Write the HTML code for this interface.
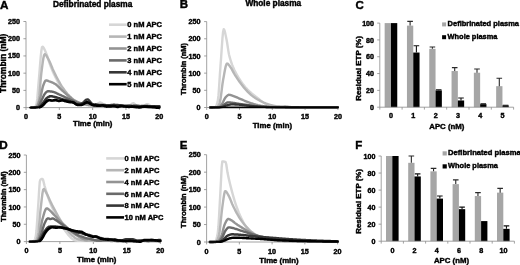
<!DOCTYPE html>
<html><head><meta charset="utf-8"><title>Figure</title>
<style>html,body{margin:0;padding:0;background:#fff;overflow:hidden}svg{display:block;filter:blur(0.35px)}text{font-family:"Liberation Sans",sans-serif;font-weight:bold;stroke:#000;stroke-width:0.42px}</style>
</head><body>
<svg width="520" height="265" viewBox="0 0 520 265" font-family="Liberation Sans, sans-serif" font-weight="bold" fill="#000">
<rect width="520" height="265" fill="#fff"/>
<g stroke="#8a8a8a" stroke-width="0.8" fill="none">
<path d="M26.00,21.50 V107.60 H159.30"/>
<path d="M23.40,107.60 H26.00"/>
<path d="M23.40,90.38 H26.00"/>
<path d="M23.40,73.16 H26.00"/>
<path d="M23.40,55.94 H26.00"/>
<path d="M23.40,38.72 H26.00"/>
<path d="M23.40,21.50 H26.00"/>
<path d="M26.00,107.60 V110.00"/>
<path d="M59.33,107.60 V110.00"/>
<path d="M92.65,107.60 V110.00"/>
<path d="M125.98,107.60 V110.00"/>
<path d="M159.30,107.60 V110.00"/>
</g>
<text x="20.00" y="110.15" font-size="7.2" text-anchor="end" >0</text>
<text x="20.00" y="92.93" font-size="7.2" text-anchor="end" >50</text>
<text x="20.00" y="75.71" font-size="7.2" text-anchor="end" >100</text>
<text x="20.00" y="58.49" font-size="7.2" text-anchor="end" >150</text>
<text x="20.00" y="41.27" font-size="7.2" text-anchor="end" >200</text>
<text x="20.00" y="24.05" font-size="7.2" text-anchor="end" >250</text>
<text x="26.00" y="118.50" font-size="7.2" text-anchor="middle" >0</text>
<text x="59.33" y="118.50" font-size="7.2" text-anchor="middle" >5</text>
<text x="92.65" y="118.50" font-size="7.2" text-anchor="middle" >10</text>
<text x="125.98" y="118.50" font-size="7.2" text-anchor="middle" >15</text>
<text x="159.30" y="118.50" font-size="7.2" text-anchor="middle" >20</text>
<g fill="none" stroke-linejoin="round" stroke-linecap="round">
<path d="M31.33,107.60 L32.00,107.59 L32.66,107.55 L33.33,107.48 L34.00,107.38 L34.66,107.26 L35.33,106.69 L36.00,105.37 L36.66,103.47 L37.33,98.40 L38.00,89.95 L38.66,81.77 L39.33,74.14 L40.00,65.69 L40.66,57.59 L41.33,51.02 L42.00,47.18 L42.66,46.73 L43.33,47.35 L44.00,48.44 L44.66,49.82 L45.33,51.35 L45.99,52.84 L46.66,54.45 L47.33,56.36 L47.99,58.45 L48.66,60.59 L49.33,62.67 L49.99,64.55 L50.66,66.28 L51.33,67.96 L51.99,69.59 L52.66,71.18 L53.33,72.70 L53.99,74.17 L54.66,75.57 L55.33,76.93 L55.99,78.26 L56.66,79.57 L57.33,80.85 L57.99,82.09 L58.66,83.30 L59.32,84.46 L59.99,85.59 L60.66,86.66 L61.32,87.69 L61.99,88.66 L62.66,89.59 L63.32,90.49 L63.99,91.36 L64.66,92.21 L65.32,93.02 L65.99,93.80 L66.66,94.56 L67.32,95.28 L67.99,95.97 L68.66,96.64 L69.32,97.27 L69.99,97.88 L70.66,98.47 L71.32,99.05 L71.99,99.60 L72.66,100.11 L73.32,100.59 L73.99,101.02 L74.65,101.40 L75.32,101.75 L75.99,102.07 L76.65,102.38 L77.32,102.67 L77.99,102.94 L78.65,103.19 L79.32,103.42 L79.99,103.64 L80.65,103.84 L81.32,104.04 L81.99,104.21 L82.65,104.36 L83.32,104.50 L83.99,104.62 L84.65,104.71 L85.32,104.83 L85.98,104.92 L86.65,105.01 L87.32,105.10 L87.98,105.18 L88.65,105.23 L89.32,105.23 L89.98,105.21 L90.65,105.20 L91.32,105.17 L91.98,105.15 L92.65,105.14 L93.32,105.12 L93.98,105.08 L94.65,105.00 L95.32,104.85 L95.98,104.65 L96.65,104.37 L97.32,103.97 L97.98,103.49 L98.65,103.03 L99.31,102.72 L99.98,102.48 L100.65,102.53 L101.31,102.84 L101.98,103.29 L102.65,103.78 L103.31,104.25 L103.98,104.66 L104.65,104.93 L105.31,105.11 L105.98,105.22 L106.65,105.28 L107.31,105.34 L107.98,105.39 L108.65,105.44 L109.31,105.48 L109.98,105.53 L110.65,105.56 L111.31,105.57 L111.98,105.58 L112.64,105.58 L113.31,105.59 L113.98,105.60 L114.64,105.71 L115.31,105.81 L115.98,105.92 L116.64,106.03 L117.31,106.13 L117.98,106.18 L118.64,106.18 L119.31,106.17 L119.98,106.16 L120.64,106.15 L121.31,106.15 L121.98,106.21 L122.64,106.27 L123.31,106.33 L123.98,106.39 L124.64,106.45 L125.31,106.47 L125.98,106.45 L126.64,106.41 L127.31,106.36 L127.97,106.27 L128.64,106.11 L129.31,105.84 L129.97,105.43 L130.64,104.90 L131.31,104.30 L131.97,103.71 L132.64,103.33 L133.31,103.25 L133.97,103.47 L134.64,103.95 L135.31,104.58 L135.97,105.23 L136.64,105.73 L137.31,106.10 L137.97,106.34 L138.64,106.47 L139.31,106.54 L139.97,106.58 L140.64,106.60 L141.30,106.60 L141.97,106.55 L142.64,106.45 L143.30,106.25 L143.97,105.93 L144.64,105.50 L145.30,105.00 L145.97,104.53 L146.64,104.19 L147.30,104.06 L147.97,104.20 L148.64,104.57 L149.30,105.07 L149.97,105.59 L150.64,106.05 L151.30,106.37 L151.97,106.57 L152.63,106.68 L153.30,106.73 L153.97,106.75 L154.63,106.79 L155.30,106.87 L155.97,106.95 L156.63,107.02 L157.30,107.10 L157.97,107.18 L158.63,107.20 L159.30,107.22" stroke="#d6d6d6" stroke-width="2.4"/>
<path d="M31.33,107.60 L32.00,107.59 L32.66,107.55 L33.33,107.48 L34.00,107.38 L34.66,107.25 L35.33,107.10 L36.00,106.91 L36.66,106.30 L37.33,104.98 L38.00,103.07 L38.66,100.71 L39.33,95.91 L40.00,88.14 L40.66,79.77 L41.33,73.16 L42.00,68.03 L42.66,62.93 L43.33,58.51 L44.00,55.40 L44.66,54.22 L45.33,54.47 L45.99,55.14 L46.66,56.12 L47.33,57.29 L47.99,58.53 L48.66,59.73 L49.33,60.98 L49.99,62.42 L50.66,63.99 L51.33,65.63 L51.99,67.28 L52.66,68.89 L53.33,70.40 L53.99,71.84 L54.66,73.24 L55.33,74.60 L55.99,75.92 L56.66,77.20 L57.33,78.48 L57.99,79.74 L58.66,80.98 L59.32,82.19 L59.99,83.36 L60.66,84.49 L61.32,85.57 L61.99,86.59 L62.66,87.57 L63.32,88.53 L63.99,89.47 L64.66,90.38 L65.32,91.26 L65.99,92.11 L66.66,92.94 L67.32,93.73 L67.99,94.48 L68.66,95.21 L69.32,95.89 L69.99,96.55 L70.66,97.19 L71.32,97.81 L71.99,98.40 L72.66,98.95 L73.32,99.47 L73.99,99.94 L74.65,100.37 L75.32,100.75 L75.99,101.12 L76.65,101.47 L77.32,101.79 L77.99,102.10 L78.65,102.38 L79.32,102.65 L79.99,102.90 L80.65,103.14 L81.32,103.37 L81.99,103.58 L82.65,103.78 L83.32,103.96 L83.99,104.12 L84.65,104.26 L85.32,104.36 L85.98,104.42 L86.65,104.47 L87.32,104.50 L87.98,104.52 L88.65,104.60 L89.32,104.75 L89.98,104.92 L90.65,105.07 L91.32,105.22 L91.98,105.36 L92.65,105.36 L93.32,105.35 L93.98,105.34 L94.65,105.32 L95.32,105.30 L95.98,105.33 L96.65,105.39 L97.32,105.45 L97.98,105.51 L98.65,105.57 L99.31,105.63 L99.98,105.60 L100.65,105.58 L101.31,105.56 L101.98,105.53 L102.65,105.51 L103.31,105.50 L103.98,105.49 L104.65,105.49 L105.31,105.48 L105.98,105.48 L106.65,105.48 L107.31,105.57 L107.98,105.66 L108.65,105.74 L109.31,105.83 L109.98,105.92 L110.65,105.96 L111.31,105.96 L111.98,105.95 L112.64,105.95 L113.31,105.95 L113.98,105.94 L114.64,105.96 L115.31,105.99 L115.98,106.01 L116.64,106.03 L117.31,106.05 L117.98,106.08 L118.64,106.12 L119.31,106.17 L119.98,106.21 L120.64,106.25 L121.31,106.29 L121.98,106.33 L122.64,106.38 L123.31,106.43 L123.98,106.48 L124.64,106.52 L125.31,106.56 L125.98,106.59 L126.64,106.62 L127.31,106.65 L127.97,106.68 L128.64,106.70 L129.31,106.66 L129.97,106.61 L130.64,106.56 L131.31,106.51 L131.97,106.46 L132.64,106.44 L133.31,106.46 L133.97,106.47 L134.64,106.49 L135.31,106.50 L135.97,106.52 L136.64,106.40 L137.31,106.28 L137.97,106.16 L138.64,106.05 L139.31,105.93 L139.97,105.99 L140.64,106.23 L141.30,106.47 L141.97,106.71 L142.64,106.96 L143.30,107.20 L143.97,107.08 L144.64,106.96 L145.30,106.84 L145.97,106.73 L146.64,106.61 L147.30,106.55 L147.97,106.55 L148.64,106.55 L149.30,106.56 L149.97,106.56 L150.64,106.56 L151.30,106.53 L151.97,106.50 L152.63,106.46 L153.30,106.43 L153.97,106.40 L154.63,106.42 L155.30,106.48 L155.97,106.54 L156.63,106.60 L157.30,106.67 L157.97,106.73 L158.63,106.75 L159.30,106.77" stroke="#b6b6b6" stroke-width="2.4"/>
<path d="M31.33,107.60 L32.00,107.59 L32.66,107.56 L33.33,107.51 L34.00,107.43 L34.66,107.33 L35.33,107.22 L36.00,107.08 L36.66,106.91 L37.33,106.30 L38.00,104.96 L38.66,103.14 L39.33,101.07 L40.00,98.99 L40.66,96.53 L41.33,93.49 L42.00,90.29 L42.66,87.38 L43.33,85.21 L44.00,83.53 L44.66,81.98 L45.33,80.84 L45.99,80.39 L46.66,80.46 L47.33,80.64 L47.99,80.89 L48.66,81.17 L49.33,81.43 L49.99,81.66 L50.66,81.91 L51.33,82.16 L51.99,82.42 L52.66,82.70 L53.33,83.00 L53.99,83.33 L54.66,83.69 L55.33,84.08 L55.99,84.55 L56.66,85.09 L57.33,85.68 L57.99,86.31 L58.66,86.96 L59.32,87.64 L59.99,88.32 L60.66,88.99 L61.32,89.64 L61.99,90.26 L62.66,90.85 L63.32,91.44 L63.99,92.03 L64.66,92.61 L65.32,93.20 L65.99,93.77 L66.66,94.35 L67.32,94.92 L67.99,95.48 L68.66,96.03 L69.32,96.58 L69.99,97.13 L70.66,97.70 L71.32,98.27 L71.99,98.83 L72.66,99.37 L73.32,99.84 L73.99,100.26 L74.65,100.64 L75.32,100.99 L75.99,101.33 L76.65,101.66 L77.32,101.98 L77.99,102.26 L78.65,102.52 L79.32,102.77 L79.99,103.00 L80.65,103.20 L81.32,103.39 L81.99,103.55 L82.65,103.70 L83.32,103.83 L83.99,103.96 L84.65,104.08 L85.32,104.24 L85.98,104.41 L86.65,104.58 L87.32,104.75 L87.98,104.93 L88.65,105.02 L89.32,105.01 L89.98,105.00 L90.65,104.97 L91.32,104.93 L91.98,104.87 L92.65,105.02 L93.32,105.16 L93.98,105.29 L94.65,105.42 L95.32,105.55 L95.98,105.62 L96.65,105.64 L97.32,105.66 L97.98,105.68 L98.65,105.70 L99.31,105.72 L99.98,105.68 L100.65,105.64 L101.31,105.61 L101.98,105.57 L102.65,105.53 L103.31,105.48 L103.98,105.41 L104.65,105.34 L105.31,105.27 L105.98,105.21 L106.65,105.15 L107.31,105.23 L107.98,105.32 L108.65,105.41 L109.31,105.49 L109.98,105.58 L110.65,105.67 L111.31,105.76 L111.98,105.86 L112.64,105.95 L113.31,106.04 L113.98,106.13 L114.64,106.14 L115.31,106.15 L115.98,106.17 L116.64,106.18 L117.31,106.19 L117.98,106.17 L118.64,106.12 L119.31,106.08 L119.98,106.03 L120.64,105.99 L121.31,105.94 L121.98,106.00 L122.64,106.06 L123.31,106.12 L123.98,106.18 L124.64,106.23 L125.31,106.29 L125.98,106.34 L126.64,106.38 L127.31,106.43 L127.97,106.48 L128.64,106.52 L129.31,106.51 L129.97,106.50 L130.64,106.49 L131.31,106.47 L131.97,106.46 L132.64,106.43 L133.31,106.40 L133.97,106.36 L134.64,106.32 L135.31,106.28 L135.97,106.24 L136.64,106.18 L137.31,106.13 L137.97,106.08 L138.64,106.02 L139.31,105.97 L139.97,106.02 L140.64,106.19 L141.30,106.36 L141.97,106.53 L142.64,106.70 L143.30,106.87 L143.97,106.85 L144.64,106.83 L145.30,106.81 L145.97,106.79 L146.64,106.77 L147.30,106.77 L147.97,106.79 L148.64,106.81 L149.30,106.84 L149.97,106.86 L150.64,106.88 L151.30,106.98 L151.97,107.08 L152.63,107.18 L153.30,107.28 L153.97,107.38 L154.63,107.40 L155.30,107.34 L155.97,107.29 L156.63,107.23 L157.30,107.18 L157.97,107.12 L158.63,107.14 L159.30,107.17" stroke="#939393" stroke-width="2.4"/>
<path d="M31.33,107.60 L32.00,107.59 L32.66,107.57 L33.33,107.54 L34.00,107.50 L34.66,107.44 L35.33,107.36 L36.00,107.27 L36.66,107.17 L37.33,107.05 L38.00,106.91 L38.66,106.37 L39.33,105.23 L40.00,103.73 L40.66,102.13 L41.33,100.71 L42.00,99.37 L42.66,97.93 L43.33,96.49 L44.00,95.14 L44.66,93.99 L45.33,93.14 L45.99,92.46 L46.66,91.85 L47.33,91.41 L47.99,91.24 L48.66,91.26 L49.33,91.30 L49.99,91.36 L50.66,91.44 L51.33,91.54 L51.99,91.65 L52.66,91.76 L53.33,91.90 L53.99,92.09 L54.66,92.33 L55.33,92.61 L55.99,92.91 L56.66,93.23 L57.33,93.56 L57.99,93.89 L58.66,94.21 L59.32,94.51 L59.99,94.81 L60.66,95.11 L61.32,95.42 L61.99,95.73 L62.66,96.04 L63.32,96.36 L63.99,96.67 L64.66,96.99 L65.32,97.30 L65.99,97.61 L66.66,97.93 L67.32,98.24 L67.99,98.56 L68.66,98.87 L69.32,99.18 L69.99,99.48 L70.66,99.79 L71.32,100.08 L71.99,100.37 L72.66,100.65 L73.32,100.91 L73.99,101.21 L74.65,101.54 L75.32,101.87 L75.99,102.20 L76.65,102.52 L77.32,102.82 L77.99,102.95 L78.65,103.05 L79.32,103.12 L79.99,103.17 L80.65,103.18 L81.32,103.22 L81.99,103.28 L82.65,103.31 L83.32,103.30 L83.99,103.26 L84.65,103.22 L85.32,103.03 L85.98,102.86 L86.65,102.75 L87.32,102.69 L87.98,102.71 L88.65,102.85 L89.32,103.13 L89.98,103.43 L90.65,103.74 L91.32,104.04 L91.98,104.32 L92.65,104.56 L93.32,104.76 L93.98,104.92 L94.65,105.06 L95.32,105.17 L95.98,105.27 L96.65,105.36 L97.32,105.44 L97.98,105.51 L98.65,105.58 L99.31,105.65 L99.98,105.61 L100.65,105.58 L101.31,105.54 L101.98,105.50 L102.65,105.46 L103.31,105.45 L103.98,105.46 L104.65,105.47 L105.31,105.48 L105.98,105.49 L106.65,105.51 L107.31,105.60 L107.98,105.69 L108.65,105.79 L109.31,105.88 L109.98,105.98 L110.65,105.95 L111.31,105.81 L111.98,105.67 L112.64,105.52 L113.31,105.38 L113.98,105.24 L114.64,105.36 L115.31,105.47 L115.98,105.59 L116.64,105.71 L117.31,105.83 L117.98,105.86 L118.64,105.82 L119.31,105.78 L119.98,105.73 L120.64,105.69 L121.31,105.65 L121.98,105.81 L122.64,105.97 L123.31,106.13 L123.98,106.29 L124.64,106.45 L125.31,106.47 L125.98,106.35 L126.64,106.23 L127.31,106.10 L127.97,105.98 L128.64,105.86 L129.31,106.03 L129.97,106.19 L130.64,106.36 L131.31,106.52 L131.97,106.68 L132.64,106.75 L133.31,106.73 L133.97,106.70 L134.64,106.68 L135.31,106.65 L135.97,106.62 L136.64,106.57 L137.31,106.52 L137.97,106.47 L138.64,106.41 L139.31,106.36 L139.97,106.35 L140.64,106.38 L141.30,106.42 L141.97,106.45 L142.64,106.48 L143.30,106.51 L143.97,106.64 L144.64,106.77 L145.30,106.90 L145.97,107.04 L146.64,107.17 L147.30,107.21 L147.97,107.16 L148.64,107.11 L149.30,107.06 L149.97,107.02 L150.64,106.97 L151.30,106.89 L151.97,106.81 L152.63,106.73 L153.30,106.65 L153.97,106.57 L154.63,106.51 L155.30,106.46 L155.97,106.42 L156.63,106.38 L157.30,106.34 L157.97,106.29 L158.63,106.31 L159.30,106.34" stroke="#6a6a6a" stroke-width="2.4"/>
<path d="M31.33,107.60 L32.00,107.60 L32.66,107.58 L33.33,107.56 L34.00,107.53 L34.66,107.48 L35.33,107.43 L36.00,107.37 L36.66,107.30 L37.33,107.22 L38.00,107.13 L38.66,107.02 L39.33,106.91 L40.00,106.61 L40.66,105.99 L41.33,105.16 L42.00,104.23 L42.66,103.29 L43.33,102.43 L44.00,101.60 L44.66,100.68 L45.33,99.75 L45.99,98.88 L46.66,98.14 L47.33,97.61 L47.99,97.21 L48.66,96.84 L49.33,96.53 L49.99,96.31 L50.66,96.23 L51.33,96.27 L51.99,96.35 L52.66,96.47 L53.33,96.62 L53.99,96.77 L54.66,96.92 L55.33,97.08 L55.99,97.27 L56.66,97.47 L57.33,97.68 L57.99,97.90 L58.66,98.11 L59.32,98.30 L59.99,98.49 L60.66,98.69 L61.32,98.89 L61.99,99.09 L62.66,99.29 L63.32,99.46 L63.99,99.63 L64.66,99.78 L65.32,99.94 L65.99,100.09 L66.66,100.27 L67.32,100.47 L67.99,100.67 L68.66,100.88 L69.32,101.10 L69.99,101.31 L70.66,101.46 L71.32,101.62 L71.99,101.79 L72.66,101.97 L73.32,102.21 L73.99,102.61 L74.65,103.15 L75.32,103.67 L75.99,104.13 L76.65,104.50 L77.32,104.72 L77.99,104.65 L78.65,104.57 L79.32,104.47 L79.99,104.34 L80.65,104.17 L81.32,103.90 L81.99,103.52 L82.65,103.05 L83.32,102.47 L83.99,101.81 L84.65,101.11 L85.32,100.50 L85.98,99.97 L86.65,99.61 L87.32,99.48 L87.98,99.58 L88.65,100.02 L89.32,100.76 L89.98,101.58 L90.65,102.43 L91.32,103.22 L91.98,103.93 L92.65,104.19 L93.32,104.34 L93.98,104.40 L94.65,104.40 L95.32,104.35 L95.98,104.39 L96.65,104.53 L97.32,104.66 L97.98,104.78 L98.65,104.90 L99.31,105.02 L99.98,105.02 L100.65,105.03 L101.31,105.04 L101.98,105.05 L102.65,105.05 L103.31,105.07 L103.98,105.08 L104.65,105.10 L105.31,105.12 L105.98,105.14 L106.65,105.17 L107.31,105.16 L107.98,105.16 L108.65,105.15 L109.31,105.15 L109.98,105.14 L110.65,105.11 L111.31,105.05 L111.98,104.99 L112.64,104.92 L113.31,104.86 L113.98,104.80 L114.64,104.85 L115.31,104.89 L115.98,104.94 L116.64,104.98 L117.31,105.03 L117.98,105.08 L118.64,105.15 L119.31,105.22 L119.98,105.29 L120.64,105.35 L121.31,105.42 L121.98,105.48 L122.64,105.54 L123.31,105.59 L123.98,105.65 L124.64,105.70 L125.31,105.74 L125.98,105.74 L126.64,105.75 L127.31,105.75 L127.97,105.76 L128.64,105.76 L129.31,105.79 L129.97,105.82 L130.64,105.85 L131.31,105.87 L131.97,105.90 L132.64,105.89 L133.31,105.84 L133.97,105.80 L134.64,105.75 L135.31,105.70 L135.97,105.66 L136.64,105.75 L137.31,105.85 L137.97,105.95 L138.64,106.04 L139.31,106.14 L139.97,106.17 L140.64,106.14 L141.30,106.11 L141.97,106.08 L142.64,106.04 L143.30,106.01 L143.97,106.03 L144.64,106.04 L145.30,106.06 L145.97,106.08 L146.64,106.09 L147.30,106.11 L147.97,106.12 L148.64,106.13 L149.30,106.14 L149.97,106.15 L150.64,106.16 L151.30,106.16 L151.97,106.16 L152.63,106.16 L153.30,106.16 L153.97,106.16 L154.63,106.17 L155.30,106.19 L155.97,106.21 L156.63,106.24 L157.30,106.26 L157.97,106.28 L158.63,106.31 L159.30,106.33" stroke="#363636" stroke-width="2.5"/>
<path d="M30.00,107.60 L30.67,107.60 L31.33,107.59 L32.00,107.59 L32.66,107.57 L33.33,107.56 L34.00,107.54 L34.66,107.52 L35.33,107.49 L36.00,107.46 L36.66,107.43 L37.33,107.39 L38.00,107.35 L38.66,107.31 L39.33,107.26 L40.00,107.11 L40.66,106.81 L41.33,106.39 L42.00,105.90" stroke="#000000" stroke-width="1.84"/>
<path d="M40.00,107.11 L40.66,106.81 L41.33,106.39 L42.00,105.90 L42.66,105.37 L43.33,104.84 L44.00,104.23 L44.66,103.46 L45.33,102.67 L46.00,101.94 L46.66,101.38 L47.33,100.93 L47.99,100.51 L48.66,100.25 L49.33,100.18 L49.99,100.25 L50.66,100.36 L51.33,100.51 L51.99,100.58 L52.66,100.52 L53.33,100.43 L53.99,100.32 L54.66,100.18 L55.33,100.02 L55.99,100.17 L56.66,100.35 L57.33,100.54 L57.99,100.72 L58.66,100.91 L59.32,100.94 L59.99,100.80 L60.66,100.67 L61.32,100.54 L61.99,100.42 L62.66,100.29 L63.32,100.49 L63.99,100.69 L64.66,100.89 L65.32,101.09 L65.99,101.30 L66.66,101.48 L67.32,101.62 L67.99,101.76 L68.66,101.90 L69.32,102.05 L69.99,102.21 L70.66,102.22 L71.32,102.24 L71.99,102.27 L72.66,102.33 L73.32,102.46 L73.99,102.78 L74.65,103.24 L75.32,103.72 L75.99,104.17 L76.65,104.55 L77.32,104.80 L77.99,104.89 L78.65,104.96 L79.32,105.00 L79.99,105.00 L80.65,104.95 L81.32,104.85 L81.99,104.68 L82.65,104.43 L83.32,104.11 L83.99,103.72 L84.65,103.30 L85.32,102.91 L85.98,102.59 L86.65,102.39 L87.32,102.36 L87.98,102.49 L88.65,102.75 L89.32,103.10 L89.98,103.52 L90.65,103.95 L91.32,104.34 L91.98,104.67 L92.65,104.95 L93.32,105.16 L93.98,105.31 L94.65,105.40 L95.32,105.46 L95.98,105.51 L96.65,105.57 L97.32,105.63 L97.98,105.67 L98.65,105.72 L99.31,105.76 L99.98,105.69 L100.65,105.61 L101.31,105.53 L101.98,105.46 L102.65,105.38 L103.31,105.45 L103.98,105.67 L104.65,105.88 L105.31,106.10 L105.98,106.32 L106.65,106.54 L107.31,106.51 L107.98,106.47 L108.65,106.44 L109.31,106.42 L109.98,106.39 L110.65,106.35 L111.31,106.30 L111.98,106.24 L112.64,106.19 L113.31,106.14 L113.98,106.09 L114.64,106.24 L115.31,106.40 L115.98,106.55 L116.64,106.70 L117.31,106.85 L117.98,106.85 L118.64,106.70 L119.31,106.54 L119.98,106.39 L120.64,106.23 L121.31,106.08 L121.98,106.15 L122.64,106.22 L123.31,106.29 L123.98,106.36 L124.64,106.43 L125.31,106.49 L125.97,106.57 L126.64,106.63 L127.31,106.70 L127.97,106.77 L128.64,106.84 L129.31,106.81 L129.97,106.77 L130.64,106.74 L131.31,106.71 L131.97,106.67 L132.64,106.69 L133.31,106.77 L133.97,106.85 L134.64,106.93 L135.31,107.01 L135.97,107.08 L136.64,107.15 L137.31,107.21 L137.97,107.27 L138.64,107.33 L139.31,107.40 L139.97,107.36 L140.64,107.22 L141.30,107.08 L141.97,106.94 L142.64,106.80 L143.30,106.66 L143.97,106.66 L144.64,106.66 L145.30,106.66 L145.97,106.66 L146.64,106.67 L147.30,106.70 L147.97,106.76 L148.64,106.82 L149.30,106.88 L149.97,106.94 L150.64,107.00 L151.30,107.02 L151.97,107.04 L152.63,107.06 L153.30,107.08 L153.97,107.10 L154.63,107.18 L155.30,107.32 L155.97,107.47 L156.63,107.60 L157.30,107.60 L157.97,107.60 L158.63,107.60 L159.30,107.60" stroke="#000000" stroke-width="2.7"/>
</g>
<text x="0.10" y="9.00" font-size="11.7" text-anchor="start" >A</text>
<text x="92.60" y="7.00" font-size="8.3" text-anchor="middle" >Defibrinated plasma</text>
<text transform="translate(6.10,63.30) rotate(-90)" font-size="8.5" text-anchor="middle">Thrombin (nM)</text>
<text x="92.70" y="126.10" font-size="7.8" text-anchor="middle" >Time (min)</text>
<path d="M109,24.70 H126.7" stroke="#d6d6d6" stroke-width="2.6" fill="none"/>
<text x="127.30" y="27.40" font-size="7.5" text-anchor="start" >0 nM APC</text>
<path d="M109,36.60 H126.7" stroke="#b6b6b6" stroke-width="2.6" fill="none"/>
<text x="127.30" y="39.30" font-size="7.5" text-anchor="start" >1 nM APC</text>
<path d="M109,48.50 H126.7" stroke="#939393" stroke-width="2.6" fill="none"/>
<text x="127.30" y="51.20" font-size="7.5" text-anchor="start" >2 nM APC</text>
<path d="M109,60.40 H126.7" stroke="#6a6a6a" stroke-width="2.6" fill="none"/>
<text x="127.30" y="63.10" font-size="7.5" text-anchor="start" >3 nM APC</text>
<path d="M109,72.30 H126.7" stroke="#363636" stroke-width="2.6" fill="none"/>
<text x="127.30" y="75.00" font-size="7.5" text-anchor="start" >4 nM APC</text>
<path d="M109,84.20 H126.7" stroke="#000000" stroke-width="2.6" fill="none"/>
<text x="127.30" y="86.90" font-size="7.5" text-anchor="start" >5 nM APC</text>
<g stroke="#8a8a8a" stroke-width="0.8" fill="none">
<path d="M206.70,21.60 V107.50 H337.90"/>
<path d="M204.10,107.50 H206.70"/>
<path d="M204.10,90.32 H206.70"/>
<path d="M204.10,73.14 H206.70"/>
<path d="M204.10,55.96 H206.70"/>
<path d="M204.10,38.78 H206.70"/>
<path d="M204.10,21.60 H206.70"/>
<path d="M206.70,107.50 V109.90"/>
<path d="M239.50,107.50 V109.90"/>
<path d="M272.30,107.50 V109.90"/>
<path d="M305.10,107.50 V109.90"/>
<path d="M337.90,107.50 V109.90"/>
</g>
<text x="200.50" y="110.05" font-size="7.2" text-anchor="end" >0</text>
<text x="200.50" y="92.87" font-size="7.2" text-anchor="end" >50</text>
<text x="200.50" y="75.69" font-size="7.2" text-anchor="end" >100</text>
<text x="200.50" y="58.51" font-size="7.2" text-anchor="end" >150</text>
<text x="200.50" y="41.33" font-size="7.2" text-anchor="end" >200</text>
<text x="200.50" y="24.15" font-size="7.2" text-anchor="end" >250</text>
<text x="206.70" y="118.90" font-size="7.2" text-anchor="middle" >0</text>
<text x="239.50" y="118.90" font-size="7.2" text-anchor="middle" >5</text>
<text x="272.30" y="118.90" font-size="7.2" text-anchor="middle" >10</text>
<text x="305.10" y="118.90" font-size="7.2" text-anchor="middle" >15</text>
<text x="337.90" y="118.90" font-size="7.2" text-anchor="middle" >20</text>
<g fill="none" stroke-linejoin="round" stroke-linecap="round">
<path d="M209.98,107.50 L210.64,107.50 L211.29,107.48 L211.95,107.46 L212.60,107.42 L213.26,107.37 L213.92,107.32 L214.57,107.24 L215.23,107.16 L215.88,106.60 L216.54,105.22 L217.20,103.17 L217.85,100.63 L218.51,95.21 L219.16,86.07 L219.82,75.61 L220.48,66.27 L221.13,57.30 L221.79,47.46 L222.44,38.39 L223.10,31.74 L223.76,29.16 L224.41,30.11 L225.07,32.50 L225.72,35.62 L226.38,38.78 L227.04,42.30 L227.69,46.54 L228.35,50.84 L229.00,54.54 L229.66,57.17 L230.32,59.43 L230.97,61.50 L231.63,63.40 L232.28,65.15 L232.94,66.76 L233.60,68.27 L234.25,69.68 L234.91,71.01 L235.56,72.29 L236.22,73.54 L236.88,74.74 L237.53,75.91 L238.19,77.04 L238.84,78.12 L239.50,79.18 L240.16,80.19 L240.81,81.17 L241.47,82.12 L242.12,83.04 L242.78,83.93 L243.44,84.78 L244.09,85.61 L244.75,86.41 L245.40,87.19 L246.06,87.94 L246.72,88.66 L247.37,89.36 L248.03,90.04 L248.68,90.69 L249.34,91.31 L250.00,91.92 L250.65,92.50 L251.31,93.07 L251.96,93.62 L252.62,94.16 L253.28,94.69 L253.93,95.21 L254.59,95.72 L255.24,96.23 L255.90,96.74 L256.56,97.24 L257.21,97.75 L257.87,98.26 L258.52,98.77 L259.18,99.30 L259.84,99.83 L260.49,100.36 L261.15,100.88 L261.80,101.40 L262.46,101.90 L263.12,102.39 L263.77,102.85 L264.43,103.29 L265.08,103.70 L265.74,104.06 L266.40,104.42 L267.05,104.77 L267.71,105.11 L268.36,105.43 L269.02,105.72 L269.68,105.97 L270.33,106.16 L270.99,106.30 L271.64,106.39 L272.30,106.48 L272.96,106.56 L273.61,106.63 L274.27,106.69 L274.92,106.75 L275.58,106.80 L276.24,106.85 L276.89,106.89 L277.55,106.93 L278.20,106.96 L278.86,106.98 L279.52,107.01 L280.17,107.03 L280.83,107.06 L281.48,107.08 L282.14,107.10 L282.80,107.11 L283.45,107.13 L284.11,107.14 L284.76,107.15 L285.42,107.16 L286.08,107.16 L286.73,107.17 L287.39,107.17 L288.04,107.17 L288.70,107.18 L289.36,107.18 L290.01,107.19 L290.67,107.19 L291.32,107.20 L291.98,107.20 L292.64,107.20 L293.29,107.21 L293.95,107.21 L294.60,107.22 L295.26,107.22 L295.92,107.22 L296.57,107.23 L297.23,107.23 L297.88,107.23 L298.54,107.24 L299.20,107.24 L299.85,107.24 L300.51,107.25 L301.16,107.25 L301.82,107.25 L302.48,107.26 L303.13,107.26 L303.79,107.26 L304.44,107.26 L305.10,107.27 L305.76,107.27 L306.41,107.27 L307.07,107.27 L307.72,107.28 L308.38,107.28 L309.04,107.28 L309.69,107.28 L310.35,107.29 L311.00,107.29 L311.66,107.29 L312.32,107.29 L312.97,107.29 L313.63,107.30 L314.28,107.30 L314.94,107.30 L315.60,107.30 L316.25,107.30 L316.91,107.30 L317.56,107.31 L318.22,107.31 L318.88,107.31 L319.53,107.31 L320.19,107.31 L320.84,107.31 L321.50,107.31 L322.16,107.32 L322.81,107.32 L323.47,107.32 L324.12,107.32 L324.78,107.32 L325.44,107.32 L326.09,107.32 L326.75,107.32 L327.40,107.32 L328.06,107.32 L328.72,107.32 L329.37,107.32 L330.03,107.33 L330.68,107.33 L331.34,107.33 L332.00,107.33 L332.65,107.33 L333.31,107.33 L333.96,107.33 L334.62,107.33 L335.28,107.33 L335.93,107.33 L336.59,107.33 L337.24,107.33 L337.90,107.33" stroke="#d6d6d6" stroke-width="2.4"/>
<path d="M209.98,107.50 L210.64,107.50 L211.29,107.49 L211.95,107.48 L212.60,107.46 L213.26,107.44 L213.92,107.41 L214.57,107.38 L215.23,107.33 L215.88,107.28 L216.54,107.22 L217.20,107.16 L217.85,106.71 L218.51,105.64 L219.16,104.13 L219.82,102.35 L220.48,99.38 L221.13,94.79 L221.79,89.45 L222.44,84.23 L223.10,80.01 L223.76,76.41 L224.41,72.69 L225.07,69.19 L225.72,66.27 L226.38,64.26 L227.04,63.52 L227.69,63.74 L228.35,64.32 L229.00,65.14 L229.66,66.06 L230.32,66.96 L230.97,67.88 L231.63,68.95 L232.28,70.12 L232.94,71.34 L233.60,72.56 L234.25,73.75 L234.91,74.86 L235.56,75.90 L236.22,76.92 L236.88,77.93 L237.53,78.91 L238.19,79.88 L238.84,80.82 L239.50,81.73 L240.16,82.63 L240.81,83.51 L241.47,84.39 L242.12,85.25 L242.78,86.10 L243.44,86.92 L244.09,87.72 L244.75,88.50 L245.40,89.25 L246.06,89.98 L246.72,90.68 L247.37,91.37 L248.03,92.04 L248.68,92.70 L249.34,93.33 L250.00,93.95 L250.65,94.54 L251.31,95.11 L251.96,95.65 L252.62,96.16 L253.28,96.65 L253.93,97.11 L254.59,97.56 L255.24,97.99 L255.90,98.40 L256.56,98.80 L257.21,99.19 L257.87,99.56 L258.52,99.93 L259.18,100.28 L259.84,100.63 L260.49,100.98 L261.15,101.32 L261.80,101.64 L262.46,101.96 L263.12,102.27 L263.77,102.57 L264.43,102.85 L265.08,103.12 L265.74,103.38 L266.40,103.62 L267.05,103.86 L267.71,104.10 L268.36,104.33 L269.02,104.55 L269.68,104.75 L270.33,104.95 L270.99,105.13 L271.64,105.29 L272.30,105.44 L272.96,105.58 L273.61,105.72 L274.27,105.86 L274.92,106.00 L275.58,106.13 L276.24,106.24 L276.89,106.33 L277.55,106.41 L278.20,106.45 L278.86,106.47 L279.52,106.46 L280.17,106.45 L280.83,106.43 L281.48,106.41 L282.14,106.38 L282.80,106.36 L283.45,106.33 L284.11,106.32 L284.76,106.30 L285.42,106.30 L286.08,106.32 L286.73,106.38 L287.39,106.48 L288.04,106.59 L288.70,106.72 L289.36,106.85 L290.01,106.96 L290.67,107.06 L291.32,107.13 L291.98,107.16 L292.64,107.16 L293.29,107.17 L293.95,107.17 L294.60,107.18 L295.26,107.19 L295.92,107.19 L296.57,107.20 L297.23,107.20 L297.88,107.21 L298.54,107.21 L299.20,107.22 L299.85,107.22 L300.51,107.23 L301.16,107.23 L301.82,107.23 L302.48,107.24 L303.13,107.24 L303.79,107.25 L304.44,107.25 L305.10,107.25 L305.76,107.26 L306.41,107.26 L307.07,107.26 L307.72,107.27 L308.38,107.27 L309.04,107.27 L309.69,107.28 L310.35,107.28 L311.00,107.28 L311.66,107.29 L312.32,107.29 L312.97,107.29 L313.63,107.29 L314.28,107.29 L314.94,107.30 L315.60,107.30 L316.25,107.30 L316.91,107.30 L317.56,107.30 L318.22,107.31 L318.88,107.31 L319.53,107.31 L320.19,107.31 L320.84,107.31 L321.50,107.31 L322.16,107.32 L322.81,107.32 L323.47,107.32 L324.12,107.32 L324.78,107.32 L325.44,107.32 L326.09,107.32 L326.75,107.32 L327.40,107.32 L328.06,107.32 L328.72,107.32 L329.37,107.32 L330.03,107.33 L330.68,107.33 L331.34,107.33 L332.00,107.33 L332.65,107.33 L333.31,107.33 L333.96,107.33 L334.62,107.33 L335.28,107.33 L335.93,107.33 L336.59,107.33 L337.24,107.33 L337.90,107.33" stroke="#b6b6b6" stroke-width="2.4"/>
<path d="M209.98,107.50 L210.64,107.50 L211.29,107.49 L211.95,107.48 L212.60,107.47 L213.26,107.46 L213.92,107.44 L214.57,107.41 L215.23,107.38 L215.88,107.35 L216.54,107.31 L217.20,107.26 L217.85,107.21 L218.51,107.16 L219.16,106.92 L219.82,106.41 L220.48,105.70 L221.13,104.89 L221.79,104.06 L222.44,103.10 L223.10,101.87 L223.76,100.53 L224.41,99.21 L225.07,98.06 L225.72,97.19 L226.38,96.51 L227.04,95.86 L227.69,95.31 L228.35,94.93 L229.00,94.79 L229.66,94.83 L230.32,94.96 L230.97,95.15 L231.63,95.37 L232.28,95.60 L232.94,95.82 L233.60,96.04 L234.25,96.28 L234.91,96.54 L235.56,96.82 L236.22,97.11 L236.88,97.40 L237.53,97.70 L238.19,98.00 L238.84,98.29 L239.50,98.57 L240.16,98.84 L240.81,99.12 L241.47,99.40 L242.12,99.68 L242.78,99.96 L243.44,100.24 L244.09,100.52 L244.75,100.79 L245.40,101.06 L246.06,101.32 L246.72,101.57 L247.37,101.83 L248.03,102.09 L248.68,102.34 L249.34,102.59 L250.00,102.83 L250.65,103.07 L251.31,103.30 L251.96,103.51 L252.62,103.72 L253.28,103.92 L253.93,104.11 L254.59,104.30 L255.24,104.49 L255.90,104.67 L256.56,104.84 L257.21,105.00 L257.87,105.16 L258.52,105.30 L259.18,105.44 L259.84,105.57 L260.49,105.69 L261.15,105.81 L261.80,105.92 L262.46,106.03 L263.12,106.13 L263.77,106.23 L264.43,106.32 L265.08,106.40 L265.74,106.47 L266.40,106.54 L267.05,106.61 L267.71,106.68 L268.36,106.74 L269.02,106.80 L269.68,106.86 L270.33,106.90 L270.99,106.94 L271.64,106.97 L272.30,106.98 L272.96,106.99 L273.61,107.00 L274.27,107.01 L274.92,107.02 L275.58,107.03 L276.24,107.03 L276.89,107.04 L277.55,107.05 L278.20,107.06 L278.86,107.06 L279.52,107.07 L280.17,107.08 L280.83,107.08 L281.48,107.09 L282.14,107.10 L282.80,107.10 L283.45,107.11 L284.11,107.12 L284.76,107.12 L285.42,107.13 L286.08,107.13 L286.73,107.14 L287.39,107.15 L288.04,107.15 L288.70,107.16 L289.36,107.16 L290.01,107.17 L290.67,107.17 L291.32,107.18 L291.98,107.18 L292.64,107.19 L293.29,107.19 L293.95,107.20 L294.60,107.20 L295.26,107.21 L295.92,107.21 L296.57,107.22 L297.23,107.22 L297.88,107.22 L298.54,107.23 L299.20,107.23 L299.85,107.24 L300.51,107.24 L301.16,107.24 L301.82,107.25 L302.48,107.25 L303.13,107.25 L303.79,107.26 L304.44,107.26 L305.10,107.26 L305.76,107.27 L306.41,107.27 L307.07,107.27 L307.72,107.27 L308.38,107.28 L309.04,107.28 L309.69,107.28 L310.35,107.28 L311.00,107.29 L311.66,107.29 L312.32,107.29 L312.97,107.29 L313.63,107.29 L314.28,107.30 L314.94,107.30 L315.60,107.30 L316.25,107.30 L316.91,107.30 L317.56,107.31 L318.22,107.31 L318.88,107.31 L319.53,107.31 L320.19,107.31 L320.84,107.31 L321.50,107.31 L322.16,107.32 L322.81,107.32 L323.47,107.32 L324.12,107.32 L324.78,107.32 L325.44,107.32 L326.09,107.32 L326.75,107.32 L327.40,107.32 L328.06,107.32 L328.72,107.32 L329.37,107.32 L330.03,107.33 L330.68,107.33 L331.34,107.33 L332.00,107.33 L332.65,107.33 L333.31,107.33 L333.96,107.33 L334.62,107.33 L335.28,107.33 L335.93,107.33 L336.59,107.33 L337.24,107.33 L337.90,107.33" stroke="#939393" stroke-width="2.4"/>
<path d="M209.98,107.50 L210.64,107.50 L211.29,107.49 L211.95,107.49 L212.60,107.48 L213.26,107.47 L213.92,107.45 L214.57,107.43 L215.23,107.41 L215.88,107.38 L216.54,107.36 L217.20,107.32 L217.85,107.29 L218.51,107.25 L219.16,107.20 L219.82,107.16 L220.48,107.00 L221.13,106.65 L221.79,106.19 L222.44,105.68 L223.10,105.18 L223.76,104.75 L224.41,104.35 L225.07,103.90 L225.72,103.44 L226.38,103.02 L227.04,102.67 L227.69,102.43 L228.35,102.35 L229.00,102.36 L229.66,102.41 L230.32,102.49 L230.97,102.58 L231.63,102.67 L232.28,102.77 L232.94,102.86 L233.60,102.95 L234.25,103.05 L234.91,103.15 L235.56,103.26 L236.22,103.37 L236.88,103.48 L237.53,103.59 L238.19,103.69 L238.84,103.80 L239.50,103.89 L240.16,103.98 L240.81,104.07 L241.47,104.16 L242.12,104.24 L242.78,104.32 L243.44,104.40 L244.09,104.49 L244.75,104.57 L245.40,104.66 L246.06,104.75 L246.72,104.85 L247.37,104.95 L248.03,105.06 L248.68,105.17 L249.34,105.28 L250.00,105.39 L250.65,105.50 L251.31,105.60 L251.96,105.69 L252.62,105.78 L253.28,105.86 L253.93,105.94 L254.59,106.02 L255.24,106.10 L255.90,106.17 L256.56,106.24 L257.21,106.30 L257.87,106.36 L258.52,106.42 L259.18,106.47 L259.84,106.52 L260.49,106.56 L261.15,106.61 L261.80,106.66 L262.46,106.71 L263.12,106.75 L263.77,106.80 L264.43,106.84 L265.08,106.88 L265.74,106.92 L266.40,106.96 L267.05,106.99 L267.71,107.03 L268.36,107.06 L269.02,107.08 L269.68,107.10 L270.33,107.12 L270.99,107.14 L271.64,107.15 L272.30,107.16 L272.96,107.16 L273.61,107.16 L274.27,107.17 L274.92,107.17 L275.58,107.18 L276.24,107.18 L276.89,107.18 L277.55,107.19 L278.20,107.19 L278.86,107.19 L279.52,107.20 L280.17,107.20 L280.83,107.20 L281.48,107.21 L282.14,107.21 L282.80,107.21 L283.45,107.22 L284.11,107.22 L284.76,107.22 L285.42,107.23 L286.08,107.23 L286.73,107.23 L287.39,107.24 L288.04,107.24 L288.70,107.24 L289.36,107.24 L290.01,107.25 L290.67,107.25 L291.32,107.25 L291.98,107.25 L292.64,107.26 L293.29,107.26 L293.95,107.26 L294.60,107.26 L295.26,107.27 L295.92,107.27 L296.57,107.27 L297.23,107.27 L297.88,107.27 L298.54,107.28 L299.20,107.28 L299.85,107.28 L300.51,107.28 L301.16,107.28 L301.82,107.29 L302.48,107.29 L303.13,107.29 L303.79,107.29 L304.44,107.29 L305.10,107.29 L305.76,107.30 L306.41,107.30 L307.07,107.30 L307.72,107.30 L308.38,107.30 L309.04,107.30 L309.69,107.30 L310.35,107.30 L311.00,107.31 L311.66,107.31 L312.32,107.31 L312.97,107.31 L313.63,107.31 L314.28,107.31 L314.94,107.31 L315.60,107.31 L316.25,107.31 L316.91,107.32 L317.56,107.32 L318.22,107.32 L318.88,107.32 L319.53,107.32 L320.19,107.32 L320.84,107.32 L321.50,107.32 L322.16,107.32 L322.81,107.32 L323.47,107.32 L324.12,107.32 L324.78,107.32 L325.44,107.32 L326.09,107.32 L326.75,107.32 L327.40,107.33 L328.06,107.33 L328.72,107.33 L329.37,107.33 L330.03,107.33 L330.68,107.33 L331.34,107.33 L332.00,107.33 L332.65,107.33 L333.31,107.33 L333.96,107.33 L334.62,107.33 L335.28,107.33 L335.93,107.33 L336.59,107.33 L337.24,107.33 L337.90,107.33" stroke="#6a6a6a" stroke-width="2.4"/>
<path d="M209.98,107.50 L210.64,107.50 L211.29,107.50 L211.95,107.49 L212.60,107.48 L213.26,107.47 L213.92,107.46 L214.57,107.44 L215.23,107.43 L215.88,107.41 L216.54,107.38 L217.20,107.36 L217.85,107.33 L218.51,107.30 L219.16,107.27 L219.82,107.23 L220.48,107.20 L221.13,107.16 L221.79,107.07 L222.44,106.90 L223.10,106.68 L223.76,106.42 L224.41,106.14 L225.07,105.87 L225.72,105.63 L226.38,105.44 L227.04,105.27 L227.69,105.10 L228.35,104.92 L229.00,104.76 L229.66,104.62 L230.32,104.51 L230.97,104.43 L231.63,104.41 L232.28,104.41 L232.94,104.42 L233.60,104.44 L234.25,104.46 L234.91,104.49 L235.56,104.52 L236.22,104.55 L236.88,104.59 L237.53,104.63 L238.19,104.67 L238.84,104.71 L239.50,104.75 L240.16,104.80 L240.81,104.85 L241.47,104.92 L242.12,104.99 L242.78,105.06 L243.44,105.14 L244.09,105.21 L244.75,105.29 L245.40,105.37 L246.06,105.44 L246.72,105.51 L247.37,105.58 L248.03,105.65 L248.68,105.72 L249.34,105.79 L250.00,105.86 L250.65,105.93 L251.31,106.00 L251.96,106.06 L252.62,106.13 L253.28,106.18 L253.93,106.24 L254.59,106.30 L255.24,106.36 L255.90,106.41 L256.56,106.46 L257.21,106.51 L257.87,106.56 L258.52,106.60 L259.18,106.64 L259.84,106.68 L260.49,106.71 L261.15,106.75 L261.80,106.78 L262.46,106.82 L263.12,106.85 L263.77,106.89 L264.43,106.92 L265.08,106.95 L265.74,106.98 L266.40,107.01 L267.05,107.03 L267.71,107.06 L268.36,107.08 L269.02,107.10 L269.68,107.12 L270.33,107.13 L270.99,107.14 L271.64,107.15 L272.30,107.16 L272.96,107.16 L273.61,107.16 L274.27,107.17 L274.92,107.17 L275.58,107.18 L276.24,107.18 L276.89,107.18 L277.55,107.19 L278.20,107.19 L278.86,107.19 L279.52,107.20 L280.17,107.20 L280.83,107.20 L281.48,107.21 L282.14,107.21 L282.80,107.21 L283.45,107.22 L284.11,107.22 L284.76,107.22 L285.42,107.23 L286.08,107.23 L286.73,107.23 L287.39,107.23 L288.04,107.24 L288.70,107.24 L289.36,107.24 L290.01,107.24 L290.67,107.25 L291.32,107.25 L291.98,107.25 L292.64,107.25 L293.29,107.26 L293.95,107.26 L294.60,107.26 L295.26,107.26 L295.92,107.27 L296.57,107.27 L297.23,107.27 L297.88,107.27 L298.54,107.27 L299.20,107.28 L299.85,107.28 L300.51,107.28 L301.16,107.28 L301.82,107.28 L302.48,107.29 L303.13,107.29 L303.79,107.29 L304.44,107.29 L305.10,107.29 L305.76,107.29 L306.41,107.30 L307.07,107.30 L307.72,107.30 L308.38,107.30 L309.04,107.30 L309.69,107.30 L310.35,107.30 L311.00,107.30 L311.66,107.31 L312.32,107.31 L312.97,107.31 L313.63,107.31 L314.28,107.31 L314.94,107.31 L315.60,107.31 L316.25,107.31 L316.91,107.31 L317.56,107.32 L318.22,107.32 L318.88,107.32 L319.53,107.32 L320.19,107.32 L320.84,107.32 L321.50,107.32 L322.16,107.32 L322.81,107.32 L323.47,107.32 L324.12,107.32 L324.78,107.32 L325.44,107.32 L326.09,107.32 L326.75,107.32 L327.40,107.33 L328.06,107.33 L328.72,107.33 L329.37,107.33 L330.03,107.33 L330.68,107.33 L331.34,107.33 L332.00,107.33 L332.65,107.33 L333.31,107.33 L333.96,107.33 L334.62,107.33 L335.28,107.33 L335.93,107.33 L336.59,107.33 L337.24,107.33 L337.90,107.33" stroke="#363636" stroke-width="2.3"/>
<path d="M210.64,107.36 L211.29,107.36 L211.95,107.36 L212.60,107.36 L213.26,107.36 L213.92,107.36 L214.57,107.36 L215.23,107.36 L215.88,107.36 L216.54,107.36 L217.20,107.36 L217.85,107.36 L218.51,107.36 L219.16,107.36 L219.82,107.36 L220.48,107.36 L221.13,107.36 L221.79,107.36 L222.44,107.36 L223.10,107.36 L223.76,107.36 L224.41,107.36 L225.07,107.36 L225.72,107.36 L226.38,107.36 L227.04,107.36 L227.69,107.36 L228.35,107.36 L229.00,107.36 L229.66,107.36 L230.32,107.36 L230.97,107.36 L231.63,107.36 L232.28,107.36 L232.94,107.36 L233.60,107.36 L234.25,107.36 L234.91,107.36 L235.56,107.36 L236.22,107.36 L236.88,107.36 L237.53,107.36 L238.19,107.36 L238.84,107.36 L239.50,107.36 L240.16,107.36 L240.81,107.36 L241.47,107.36 L242.12,107.36 L242.78,107.36 L243.44,107.36 L244.09,107.36 L244.75,107.36 L245.40,107.36 L246.06,107.36 L246.72,107.36 L247.37,107.36 L248.03,107.36 L248.68,107.36 L249.34,107.36 L250.00,107.36 L250.65,107.36 L251.31,107.36 L251.96,107.36 L252.62,107.36 L253.28,107.36 L253.93,107.36 L254.59,107.36 L255.24,107.36 L255.90,107.36 L256.56,107.36 L257.21,107.36 L257.87,107.36 L258.52,107.36 L259.18,107.36 L259.84,107.36 L260.49,107.36 L261.15,107.36 L261.80,107.36 L262.46,107.36 L263.12,107.36 L263.77,107.36 L264.43,107.36 L265.08,107.36 L265.74,107.36 L266.40,107.36 L267.05,107.36 L267.71,107.36 L268.36,107.36 L269.02,107.36 L269.68,107.36 L270.33,107.36 L270.99,107.36 L271.64,107.36 L272.30,107.36 L272.96,107.36 L273.61,107.36 L274.27,107.36 L274.92,107.36 L275.58,107.36 L276.24,107.36 L276.89,107.36 L277.55,107.36 L278.20,107.36 L278.86,107.36 L279.52,107.36 L280.17,107.36 L280.83,107.36 L281.48,107.36 L282.14,107.36 L282.80,107.36 L283.45,107.36 L284.11,107.36 L284.76,107.36 L285.42,107.36 L286.08,107.36 L286.73,107.36 L287.39,107.36 L288.04,107.36 L288.70,107.36 L289.36,107.36 L290.01,107.36 L290.67,107.36 L291.32,107.36 L291.98,107.36 L292.64,107.36 L293.29,107.36 L293.95,107.36 L294.60,107.36 L295.26,107.36 L295.92,107.36 L296.57,107.36 L297.23,107.36 L297.88,107.36 L298.54,107.36 L299.20,107.36 L299.85,107.36 L300.51,107.36 L301.16,107.36 L301.82,107.36 L302.48,107.36 L303.13,107.36 L303.79,107.36 L304.44,107.36 L305.10,107.36 L305.76,107.36 L306.41,107.36 L307.07,107.36 L307.72,107.36 L308.38,107.36 L309.04,107.36 L309.69,107.36 L310.35,107.36 L311.00,107.36 L311.66,107.36 L312.32,107.36 L312.97,107.36 L313.63,107.36 L314.28,107.36 L314.94,107.36 L315.60,107.36 L316.25,107.36 L316.91,107.36 L317.56,107.36 L318.22,107.36 L318.88,107.36 L319.53,107.36 L320.19,107.36 L320.84,107.36 L321.50,107.36 L322.16,107.36 L322.81,107.36 L323.47,107.36 L324.12,107.36 L324.78,107.36 L325.44,107.36 L326.09,107.36 L326.75,107.36 L327.40,107.36 L328.06,107.36 L328.72,107.36 L329.37,107.36 L330.03,107.36 L330.68,107.36 L331.34,107.36 L332.00,107.36 L332.65,107.36 L333.31,107.36 L333.96,107.36 L334.62,107.36 L335.28,107.36 L335.93,107.36 L336.59,107.36 L337.24,107.36 L337.90,107.36" stroke="#000000" stroke-width="1.8"/>
</g>
<text x="179.80" y="8.30" font-size="11.5" text-anchor="start" >B</text>
<text x="273.30" y="6.30" font-size="8.3" text-anchor="middle" >Whole plasma</text>
<text transform="translate(185.70,69.00) rotate(-90)" font-size="7.45" text-anchor="middle">Thrombin (nM)</text>
<text x="272.40" y="127.60" font-size="7.8" text-anchor="middle" >Time (min)</text>
<g stroke="#8a8a8a" stroke-width="0.8" fill="none">
<path d="M26.40,155.00 V241.60 H160.30"/>
<path d="M23.80,241.60 H26.40"/>
<path d="M23.80,224.28 H26.40"/>
<path d="M23.80,206.96 H26.40"/>
<path d="M23.80,189.64 H26.40"/>
<path d="M23.80,172.32 H26.40"/>
<path d="M23.80,155.00 H26.40"/>
<path d="M26.40,241.60 V244.00"/>
<path d="M59.88,241.60 V244.00"/>
<path d="M93.35,241.60 V244.00"/>
<path d="M126.83,241.60 V244.00"/>
<path d="M160.30,241.60 V244.00"/>
</g>
<text x="20.60" y="244.15" font-size="7.2" text-anchor="end" >0</text>
<text x="20.60" y="226.83" font-size="7.2" text-anchor="end" >50</text>
<text x="20.60" y="209.51" font-size="7.2" text-anchor="end" >100</text>
<text x="20.60" y="192.19" font-size="7.2" text-anchor="end" >150</text>
<text x="20.60" y="174.87" font-size="7.2" text-anchor="end" >200</text>
<text x="20.60" y="157.55" font-size="7.2" text-anchor="end" >250</text>
<text x="26.40" y="253.40" font-size="7.2" text-anchor="middle" >0</text>
<text x="59.88" y="253.40" font-size="7.2" text-anchor="middle" >5</text>
<text x="93.35" y="253.40" font-size="7.2" text-anchor="middle" >10</text>
<text x="126.83" y="253.40" font-size="7.2" text-anchor="middle" >15</text>
<text x="160.30" y="253.40" font-size="7.2" text-anchor="middle" >20</text>
<g fill="none" stroke-linejoin="round" stroke-linecap="round">
<path d="M29.75,241.60 L30.42,241.59 L31.09,241.57 L31.76,241.52 L32.43,241.45 L33.09,241.37 L33.76,241.25 L34.43,240.53 L35.10,238.82 L35.77,236.40 L36.44,230.98 L37.11,221.83 L37.78,211.63 L38.45,201.98 L39.12,190.41 L39.79,181.54 L40.46,179.67 L41.13,179.24 L41.80,178.99 L42.47,178.90 L43.14,180.12 L43.81,182.80 L44.48,185.48 L45.15,187.74 L45.82,190.06 L46.48,192.35 L47.15,194.55 L47.82,196.57 L48.49,198.44 L49.16,200.23 L49.83,201.95 L50.50,203.61 L51.17,205.21 L51.84,206.76 L52.51,208.27 L53.18,209.73 L53.85,211.16 L54.52,212.56 L55.19,213.92 L55.86,215.25 L56.53,216.54 L57.20,217.80 L57.87,219.04 L58.54,220.24 L59.21,221.41 L59.87,222.55 L60.54,223.66 L61.21,224.75 L61.88,225.81 L62.55,226.84 L63.22,227.85 L63.89,228.84 L64.56,229.81 L65.23,230.76 L65.90,231.68 L66.57,232.59 L67.24,233.50 L67.91,234.39 L68.58,235.24 L69.25,236.04 L69.92,236.75 L70.59,237.42 L71.26,238.06 L71.93,238.65 L72.60,239.15 L73.26,239.52 L73.93,239.81 L74.60,240.09 L75.27,240.34 L75.94,240.53 L76.61,240.63 L77.28,240.69 L77.95,240.77 L78.62,240.80 L79.29,240.82 L79.96,240.84 L80.63,240.85 L81.30,240.84 L81.97,240.77 L82.64,240.64 L83.31,240.48 L83.98,240.31 L84.65,240.15 L85.32,240.00 L85.99,239.92 L86.65,239.85 L87.32,239.81 L87.99,239.78 L88.66,239.77 L89.33,239.84 L90.00,239.99 L90.67,240.15 L91.34,240.29 L92.01,240.43 L92.68,240.56 L93.35,240.61 L94.02,240.65 L94.69,240.69 L95.36,240.74 L96.03,240.78 L96.70,240.74 L97.37,240.63 L98.04,240.52 L98.71,240.41 L99.38,240.29 L100.04,240.18 L100.71,240.27 L101.38,240.36 L102.05,240.45 L102.72,240.54 L103.39,240.62 L104.06,240.64 L104.73,240.57 L105.40,240.51 L106.07,240.44 L106.74,240.37 L107.41,240.31 L108.08,240.26 L108.75,240.21 L109.42,240.15 L110.09,240.10 L110.76,240.05 L111.43,240.06 L112.10,240.12 L112.77,240.17 L113.43,240.23 L114.10,240.29 L114.77,240.35 L115.44,240.39 L116.11,240.43 L116.78,240.46 L117.45,240.50 L118.12,240.54 L118.79,240.53 L119.46,240.50 L120.13,240.46 L120.80,240.42 L121.47,240.38 L122.14,240.34 L122.81,240.43 L123.48,240.52 L124.15,240.61 L124.82,240.70 L125.49,240.79 L126.16,240.82 L126.82,240.79 L127.49,240.77 L128.16,240.74 L128.83,240.72 L129.50,240.69 L130.17,240.72 L130.84,240.75 L131.51,240.78 L132.18,240.81 L132.85,240.84 L133.52,240.84 L134.19,240.82 L134.86,240.81 L135.53,240.79 L136.20,240.77 L136.87,240.75 L137.54,240.77 L138.21,240.80 L138.88,240.82 L139.55,240.84 L140.21,240.87 L140.88,240.87 L141.55,240.86 L142.22,240.84 L142.89,240.83 L143.56,240.82 L144.23,240.81 L144.90,240.82 L145.57,240.84 L146.24,240.86 L146.91,240.88 L147.58,240.90 L148.25,240.90 L148.92,240.87 L149.59,240.85 L150.26,240.83 L150.93,240.80 L151.60,240.78 L152.27,240.79 L152.94,240.80 L153.60,240.81 L154.27,240.82 L154.94,240.82 L155.61,240.82 L156.28,240.82 L156.95,240.81 L157.62,240.80 L158.29,240.80 L158.96,240.79 L159.63,240.80 L160.30,240.80" stroke="#d6d6d6" stroke-width="2.4"/>
<path d="M29.75,241.60 L30.42,241.60 L31.09,241.58 L31.76,241.56 L32.43,241.52 L33.09,241.47 L33.76,241.41 L34.43,241.34 L35.10,241.25 L35.77,240.83 L36.44,239.80 L37.11,238.29 L37.78,236.40 L38.45,232.21 L39.12,225.09 L39.79,217.13 L40.46,210.42 L41.13,204.58 L41.80,198.51 L42.47,193.23 L43.14,189.76 L43.81,188.98 L44.48,189.54 L45.15,190.59 L45.82,191.86 L46.48,193.10 L47.15,194.35 L47.82,195.76 L48.49,197.26 L49.16,198.81 L49.83,200.33 L50.50,201.76 L51.17,203.13 L51.84,204.47 L52.51,205.79 L53.18,207.10 L53.85,208.39 L54.52,209.66 L55.19,210.92 L55.86,212.16 L56.53,213.39 L57.20,214.61 L57.87,215.82 L58.54,217.01 L59.21,218.18 L59.87,219.33 L60.54,220.44 L61.21,221.51 L61.88,222.55 L62.55,223.57 L63.22,224.57 L63.89,225.54 L64.56,226.48 L65.23,227.40 L65.90,228.28 L66.57,229.13 L67.24,229.96 L67.91,230.79 L68.58,231.60 L69.25,232.40 L69.92,233.18 L70.59,233.92 L71.26,234.62 L71.93,235.27 L72.60,235.87 L73.26,236.40 L73.93,236.93 L74.60,237.44 L75.27,237.90 L75.94,238.31 L76.61,238.66 L77.28,238.93 L77.95,239.11 L78.62,239.32 L79.29,239.50 L79.96,239.68 L80.63,239.85 L81.30,240.01 L81.97,240.11 L82.64,240.10 L83.31,240.08 L83.98,240.05 L84.65,240.01 L85.32,239.98 L85.99,240.13 L86.65,240.29 L87.32,240.44 L87.99,240.59 L88.66,240.73 L89.33,240.82 L90.00,240.84 L90.67,240.87 L91.34,240.89 L92.01,240.90 L92.68,240.92 L93.35,240.78 L94.02,240.64 L94.69,240.49 L95.36,240.35 L96.03,240.21 L96.70,240.16 L97.37,240.21 L98.04,240.25 L98.71,240.30 L99.38,240.34 L100.04,240.39 L100.71,240.41 L101.38,240.43 L102.05,240.46 L102.72,240.48 L103.39,240.50 L104.06,240.50 L104.73,240.47 L105.40,240.43 L106.07,240.40 L106.74,240.37 L107.41,240.34 L108.08,240.35 L108.75,240.35 L109.42,240.36 L110.09,240.37 L110.76,240.38 L111.43,240.43 L112.10,240.54 L112.77,240.65 L113.43,240.76 L114.10,240.86 L114.77,240.97 L115.44,241.04 L116.11,241.11 L116.78,241.17 L117.45,241.24 L118.12,241.31 L118.79,241.33 L119.46,241.30 L120.13,241.27 L120.80,241.24 L121.47,241.21 L122.14,241.18 L122.81,241.19 L123.48,241.20 L124.15,241.20 L124.82,241.21 L125.49,241.22 L126.16,241.25 L126.82,241.28 L127.49,241.31 L128.16,241.34 L128.83,241.37 L129.50,241.40 L130.17,241.30 L130.84,241.21 L131.51,241.11 L132.18,241.02 L132.85,240.93 L133.52,240.88 L134.19,240.87 L134.86,240.87 L135.53,240.87 L136.20,240.87 L136.87,240.86 L137.54,240.84 L138.21,240.81 L138.88,240.79 L139.55,240.76 L140.21,240.74 L140.88,240.72 L141.55,240.71 L142.22,240.70 L142.89,240.69 L143.56,240.68 L144.23,240.67 L144.90,240.71 L145.57,240.75 L146.24,240.80 L146.91,240.84 L147.58,240.89 L148.25,240.91 L148.92,240.91 L149.59,240.90 L150.26,240.90 L150.93,240.90 L151.60,240.90 L152.27,240.89 L152.94,240.87 L153.60,240.86 L154.27,240.85 L154.94,240.83 L155.61,240.86 L156.28,240.94 L156.95,241.01 L157.62,241.09 L158.29,241.16 L158.96,241.24 L159.63,241.24 L160.30,241.25" stroke="#b6b6b6" stroke-width="2.4"/>
<path d="M29.75,241.60 L30.42,241.60 L31.09,241.59 L31.76,241.57 L32.43,241.55 L33.09,241.52 L33.76,241.49 L34.43,241.44 L35.10,241.39 L35.77,241.33 L36.44,241.25 L37.11,240.78 L37.78,239.67 L38.45,238.14 L39.12,236.40 L39.79,233.84 L40.46,230.15 L41.13,226.00 L41.80,222.08 L42.47,219.08 L43.14,216.72 L43.81,214.37 L44.48,212.19 L45.15,210.36 L45.82,209.04 L46.48,208.38 L47.15,208.42 L47.82,208.75 L48.49,209.26 L49.16,209.85 L49.83,210.42 L50.50,211.02 L51.17,211.70 L51.84,212.43 L52.51,213.17 L53.18,213.89 L53.85,214.58 L54.52,215.29 L55.19,215.99 L55.86,216.69 L56.53,217.40 L57.20,218.10 L57.87,218.79 L58.54,219.48 L59.21,220.15 L59.87,220.82 L60.54,221.47 L61.21,222.11 L61.88,222.75 L62.55,223.37 L63.22,224.00 L63.89,224.61 L64.56,225.23 L65.23,225.84 L65.90,226.45 L66.57,227.05 L67.24,227.66 L67.91,228.28 L68.58,228.89 L69.25,229.51 L69.92,230.11 L70.59,230.71 L71.26,231.30 L71.93,231.87 L72.60,232.42 L73.26,232.94 L73.93,233.45 L74.60,233.96 L75.27,234.44 L75.94,234.90 L76.61,235.34 L77.28,235.75 L77.95,236.14 L78.62,236.55 L79.29,236.94 L79.96,237.31 L80.63,237.67 L81.30,238.04 L81.97,238.38 L82.64,238.68 L83.31,238.93 L83.98,239.11 L84.65,239.24 L85.32,239.35 L85.99,239.31 L86.65,239.26 L87.32,239.20 L87.99,239.14 L88.66,239.07 L89.33,239.11 L90.00,239.27 L90.67,239.43 L91.34,239.58 L92.01,239.74 L92.68,239.90 L93.35,240.00 L94.02,240.10 L94.69,240.19 L95.36,240.28 L96.03,240.37 L96.70,240.47 L97.37,240.57 L98.04,240.66 L98.71,240.75 L99.38,240.83 L100.04,240.90 L100.71,240.77 L101.38,240.65 L102.05,240.52 L102.72,240.39 L103.39,240.26 L104.06,240.21 L104.73,240.23 L105.40,240.25 L106.07,240.28 L106.74,240.30 L107.41,240.32 L108.08,240.46 L108.75,240.59 L109.42,240.73 L110.09,240.86 L110.76,241.00 L111.43,241.04 L112.10,240.99 L112.77,240.93 L113.43,240.88 L114.10,240.83 L114.77,240.77 L115.44,240.76 L116.11,240.74 L116.78,240.72 L117.45,240.70 L118.12,240.68 L118.79,240.74 L119.46,240.86 L120.13,240.98 L120.80,241.11 L121.47,241.23 L122.14,241.35 L122.81,241.27 L123.48,241.19 L124.15,241.11 L124.82,241.03 L125.49,240.95 L126.16,240.85 L126.82,240.75 L127.49,240.65 L128.16,240.55 L128.83,240.45 L129.50,240.35 L130.17,240.54 L130.84,240.73 L131.51,240.93 L132.18,241.12 L132.85,241.31 L133.52,241.34 L134.19,241.21 L134.86,241.08 L135.53,240.95 L136.20,240.82 L136.87,240.69 L137.54,240.61 L138.21,240.52 L138.88,240.44 L139.55,240.35 L140.21,240.27 L140.88,240.30 L141.55,240.46 L142.22,240.62 L142.89,240.78 L143.56,240.94 L144.23,241.10 L144.90,241.09 L145.57,241.09 L146.24,241.08 L146.91,241.07 L147.58,241.06 L148.25,241.03 L148.92,240.99 L149.59,240.95 L150.26,240.91 L150.93,240.87 L151.60,240.83 L152.27,240.81 L152.94,240.79 L153.60,240.77 L154.27,240.75 L154.94,240.74 L155.61,240.73 L156.28,240.74 L156.95,240.75 L157.62,240.75 L158.29,240.76 L158.96,240.77 L159.63,240.77 L160.30,240.77" stroke="#939393" stroke-width="2.4"/>
<path d="M29.75,241.60 L30.42,241.60 L31.09,241.59 L31.76,241.58 L32.43,241.56 L33.09,241.54 L33.76,241.51 L34.43,241.47 L35.10,241.43 L35.77,241.38 L36.44,241.32 L37.11,241.25 L37.78,240.92 L38.45,240.13 L39.12,239.03 L39.79,237.74 L40.46,236.40 L41.13,234.73 L41.80,232.52 L42.47,230.04 L43.14,227.55 L43.81,225.31 L44.48,223.59 L45.15,222.16 L45.82,220.76 L46.48,219.56 L47.15,218.71 L47.82,218.39 L48.49,218.50 L49.16,218.74 L49.83,218.98 L50.50,219.08 L51.17,218.90 L51.84,218.57 L52.51,218.39 L53.18,218.51 L53.85,218.81 L54.52,219.23 L55.19,219.69 L55.86,220.12 L56.53,220.54 L57.20,220.98 L57.87,221.45 L58.54,221.93 L59.21,222.42 L59.87,222.89 L60.54,223.37 L61.21,223.85 L61.88,224.34 L62.55,224.83 L63.22,225.33 L63.89,225.82 L64.56,226.31 L65.23,226.79 L65.90,227.27 L66.57,227.74 L67.24,228.21 L67.91,228.68 L68.58,229.14 L69.25,229.61 L69.92,230.06 L70.59,230.52 L71.26,230.96 L71.93,231.40 L72.60,231.83 L73.26,232.25 L73.93,232.65 L74.60,233.05 L75.27,233.46 L75.94,233.87 L76.61,234.28 L77.28,234.69 L77.95,235.09 L78.62,235.42 L79.29,235.72 L79.96,236.00 L80.63,236.25 L81.30,236.49 L81.97,236.73 L82.64,236.98 L83.31,237.21 L83.98,237.45 L84.65,237.66 L85.32,237.86 L85.99,238.04 L86.65,238.21 L87.32,238.35 L87.99,238.48 L88.66,238.60 L89.33,238.75 L90.00,238.92 L90.67,239.08 L91.34,239.24 L92.01,239.39 L92.68,239.53 L93.35,239.71 L94.02,239.88 L94.69,240.06 L95.36,240.24 L96.03,240.41 L96.70,240.51 L97.37,240.53 L98.04,240.55 L98.71,240.57 L99.38,240.59 L100.04,240.60 L100.71,240.53 L101.38,240.46 L102.05,240.38 L102.72,240.30 L103.39,240.21 L104.06,240.18 L104.73,240.20 L105.40,240.21 L106.07,240.22 L106.74,240.22 L107.41,240.22 L108.08,240.21 L108.75,240.20 L109.42,240.19 L110.09,240.19 L110.76,240.18 L111.43,240.23 L112.10,240.36 L112.77,240.48 L113.43,240.61 L114.10,240.73 L114.77,240.86 L115.44,240.89 L116.11,240.93 L116.78,240.96 L117.45,240.99 L118.12,241.03 L118.79,240.99 L119.46,240.88 L120.13,240.76 L120.80,240.65 L121.47,240.54 L122.14,240.43 L122.81,240.43 L123.48,240.44 L124.15,240.45 L124.82,240.46 L125.49,240.47 L126.16,240.50 L126.82,240.56 L127.49,240.62 L128.16,240.68 L128.83,240.74 L129.50,240.80 L130.17,240.80 L130.84,240.81 L131.51,240.81 L132.18,240.82 L132.85,240.83 L133.52,240.87 L134.19,240.96 L134.86,241.05 L135.53,241.14 L136.20,241.23 L136.87,241.32 L137.54,241.25 L138.21,241.18 L138.88,241.11 L139.55,241.04 L140.21,240.97 L140.88,240.89 L141.55,240.80 L142.22,240.70 L142.89,240.61 L143.56,240.52 L144.23,240.42 L144.90,240.56 L145.57,240.71 L146.24,240.85 L146.91,240.99 L147.58,241.14 L148.25,241.20 L148.92,241.17 L149.59,241.14 L150.26,241.12 L150.93,241.09 L151.60,241.06 L152.27,241.04 L152.94,241.02 L153.60,241.01 L154.27,240.99 L154.94,240.97 L155.61,240.96 L156.28,240.97 L156.95,240.99 L157.62,241.00 L158.29,241.01 L158.96,241.02 L159.63,241.02 L160.30,241.02" stroke="#6a6a6a" stroke-width="2.4"/>
<path d="M29.75,241.60 L30.42,241.60 L31.09,241.59 L31.76,241.58 L32.43,241.57 L33.09,241.55 L33.76,241.52 L34.43,241.49 L35.10,241.46 L35.77,241.42 L36.44,241.37 L37.11,241.31 L37.78,241.25 L38.45,240.96 L39.12,240.30 L39.79,239.41 L40.46,238.41 L41.13,237.44 L41.80,236.41 L42.47,235.20 L43.14,233.91 L43.81,232.63 L44.48,231.47 L45.15,230.52 L45.82,229.68 L46.48,228.85 L47.15,228.07 L47.82,227.42 L48.49,226.95 L49.16,226.70 L49.83,226.61 L50.50,226.52 L51.17,226.45 L51.84,226.40 L52.51,226.37 L53.18,226.36 L53.85,226.37 L54.52,226.40 L55.19,226.45 L55.86,226.51 L56.53,226.58 L57.20,226.66 L57.87,226.76 L58.54,226.85 L59.21,226.95 L59.87,227.05 L60.54,227.18 L61.21,227.32 L61.88,227.48 L62.55,227.65 L63.22,227.84 L63.89,228.02 L64.56,228.19 L65.23,228.37 L65.90,228.53 L66.57,228.68 L67.24,228.84 L67.91,229.00 L68.58,229.17 L69.25,229.33 L69.92,229.49 L70.59,229.68 L71.26,229.92 L71.93,230.15 L72.60,230.39 L73.26,230.63 L73.93,230.86 L74.60,231.12 L75.27,231.42 L75.94,231.71 L76.61,232.00 L77.28,232.30 L77.95,232.59 L78.62,232.70 L79.29,232.80 L79.96,232.91 L80.63,233.01 L81.30,233.13 L81.97,233.33 L82.64,233.61 L83.31,233.89 L83.98,234.17 L84.65,234.45 L85.32,234.72 L85.99,234.76 L86.65,234.79 L87.32,234.81 L87.99,234.82 L88.66,234.83 L89.33,234.96 L90.00,235.20 L90.67,235.43 L91.34,235.66 L92.01,235.89 L92.68,236.11 L93.35,236.31 L94.02,236.50 L94.69,236.69 L95.36,236.87 L96.03,237.06 L96.70,237.21 L97.37,237.34 L98.04,237.46 L98.71,237.59 L99.38,237.71 L100.04,237.83 L100.71,238.02 L101.38,238.22 L102.05,238.41 L102.72,238.61 L103.39,238.80 L104.06,238.90 L104.73,238.90 L105.40,238.90 L106.07,238.89 L106.74,238.87 L107.41,238.84 L108.08,239.01 L108.75,239.18 L109.42,239.35 L110.09,239.52 L110.76,239.68 L111.43,239.71 L112.10,239.63 L112.77,239.53 L113.43,239.44 L114.10,239.35 L114.77,239.25 L115.44,239.48 L116.11,239.71 L116.78,239.95 L117.45,240.18 L118.12,240.41 L118.79,240.51 L119.46,240.48 L120.13,240.45 L120.80,240.42 L121.47,240.38 L122.14,240.34 L122.81,240.14 L123.48,239.93 L124.15,239.72 L124.82,239.50 L125.49,239.28 L126.16,239.17 L126.82,239.17 L127.49,239.16 L128.16,239.15 L128.83,239.15 L129.50,239.14 L130.17,239.16 L130.84,239.18 L131.51,239.20 L132.18,239.22 L132.85,239.23 L133.52,239.38 L134.19,239.65 L134.86,239.93 L135.53,240.20 L136.20,240.47 L136.87,240.75 L137.54,240.72 L138.21,240.69 L138.88,240.66 L139.55,240.64 L140.21,240.61 L140.88,240.59 L141.55,240.59 L142.22,240.59 L142.89,240.58 L143.56,240.58 L144.23,240.58 L144.90,240.61 L145.57,240.63 L146.24,240.66 L146.91,240.68 L147.58,240.71 L148.25,240.64 L148.92,240.48 L149.59,240.31 L150.26,240.15 L150.93,239.99 L151.60,239.82 L152.27,239.89 L152.94,239.96 L153.60,240.03 L154.27,240.11 L154.94,240.18 L155.61,240.20 L156.28,240.16 L156.95,240.13 L157.62,240.09 L158.29,240.06 L158.96,240.02 L159.63,240.03 L160.30,240.04" stroke="#363636" stroke-width="2.4"/>
<path d="M29.75,241.60 L30.42,241.60 L31.09,241.59 L31.76,241.59 L32.43,241.58 L33.09,241.56 L33.76,241.55 L34.43,241.53 L35.10,241.50 L35.77,241.47 L36.44,241.44 L37.11,241.40 L37.78,241.36 L38.45,241.31 L39.12,241.25 L39.79,240.99 L40.46,240.41 L41.13,239.64 L41.80,238.83" stroke="#000000" stroke-width="1.77"/>
<path d="M39.79,240.99 L40.46,240.41 L41.13,239.64 L41.80,238.83 L42.47,237.86 L43.14,236.63 L43.81,235.30 L44.48,234.02 L45.15,232.94 L45.82,232.02 L46.48,231.12 L47.15,230.30 L47.82,229.57 L48.49,228.98 L49.16,228.51 L49.83,228.12 L50.50,227.75 L51.17,227.47 L51.84,227.31 L52.51,227.30 L53.18,227.36 L53.85,227.42 L54.52,227.50 L55.19,227.60 L55.86,227.70 L56.53,227.66 L57.20,227.59 L57.87,227.52 L58.54,227.45 L59.21,227.38 L59.87,227.38 L60.54,227.45 L61.21,227.51 L61.88,227.62 L62.55,227.80 L63.22,228.04 L63.89,228.15 L64.56,228.28 L65.23,228.41 L65.90,228.53 L66.57,228.63 L67.24,228.79 L67.91,229.05 L68.58,229.31 L69.25,229.57 L69.92,229.83 L70.59,230.08 L71.26,230.25 L71.93,230.42 L72.60,230.58 L73.26,230.74 L73.93,230.90 L74.60,231.02 L75.27,231.11 L75.94,231.19 L76.61,231.29 L77.28,231.40 L77.95,231.53 L78.62,231.55 L79.29,231.59 L79.96,231.63 L80.63,231.68 L81.30,231.74 L81.97,231.98 L82.64,232.38 L83.31,232.78 L83.98,233.18 L84.65,233.58 L85.32,233.98 L85.99,234.30 L86.65,234.62 L87.32,234.93 L87.99,235.25 L88.66,235.56 L89.33,235.82 L90.00,236.02 L90.67,236.22 L91.34,236.42 L92.01,236.61 L92.68,236.79 L93.35,236.73 L94.02,236.65 L94.69,236.57 L95.36,236.49 L96.03,236.40 L96.70,236.56 L97.37,236.96 L98.04,237.35 L98.71,237.74 L99.38,238.12 L100.04,238.49 L100.71,238.63 L101.38,238.77 L102.05,238.89 L102.72,239.01 L103.39,239.12 L104.06,239.22 L104.73,239.31 L105.40,239.39 L106.07,239.47 L106.74,239.55 L107.41,239.61 L108.08,239.60 L108.75,239.58 L109.42,239.56 L110.09,239.52 L110.76,239.48 L111.43,239.53 L112.10,239.66 L112.77,239.79 L113.43,239.92 L114.10,240.05 L114.77,240.17 L115.44,240.23 L116.11,240.29 L116.78,240.35 L117.45,240.40 L118.12,240.45 L118.79,240.51 L119.46,240.58 L120.13,240.64 L120.80,240.70 L121.47,240.76 L122.14,240.81 L122.81,240.87 L123.48,240.94 L124.15,241.00 L124.82,241.05 L125.49,241.11 L126.16,241.12 L126.82,241.06 L127.49,241.01 L128.16,240.96 L128.83,240.90 L129.50,240.85 L130.17,240.89 L130.84,240.92 L131.51,240.96 L132.18,240.99 L132.85,241.03 L133.52,241.09 L134.19,241.17 L134.86,241.24 L135.53,241.31 L136.20,241.37 L136.87,241.44 L137.54,241.50 L138.21,241.56 L138.88,241.60 L139.55,241.60 L140.21,241.60 L140.88,241.59 L141.55,241.27 L142.22,240.95 L142.89,240.64 L143.56,240.33 L144.23,240.01 L144.90,240.00 L145.57,239.99 L146.24,239.98 L146.91,239.97 L147.58,239.97 L148.25,239.98 L148.92,240.00 L149.59,240.02 L150.26,240.05 L150.93,240.09 L151.60,240.14 L152.27,240.16 L152.94,240.20 L153.60,240.24 L154.27,240.29 L154.94,240.34 L155.61,240.41 L156.28,240.49 L156.95,240.57 L157.62,240.66 L158.29,240.75 L158.96,240.84 L159.63,240.91 L160.30,240.98" stroke="#000000" stroke-width="2.6"/>
</g>
<text x="-0.80" y="148.90" font-size="11.7" text-anchor="start" >D</text>
<text transform="translate(6.20,196.60) rotate(-90)" font-size="7.2" text-anchor="middle">Thrombin (nM)</text>
<text x="96.70" y="262.45" font-size="7.8" text-anchor="middle" >Time (min)</text>
<path d="M106.2,158.40 H124.0" stroke="#d6d6d6" stroke-width="2.6" fill="none"/>
<text x="124.60" y="161.10" font-size="7.5" text-anchor="start" >0 nM APC</text>
<path d="M106.2,170.20 H124.0" stroke="#b6b6b6" stroke-width="2.6" fill="none"/>
<text x="124.60" y="172.90" font-size="7.5" text-anchor="start" >2 nM APC</text>
<path d="M106.2,182.00 H124.0" stroke="#939393" stroke-width="2.6" fill="none"/>
<text x="124.60" y="184.70" font-size="7.5" text-anchor="start" >4 nM APC</text>
<path d="M106.2,193.80 H124.0" stroke="#6a6a6a" stroke-width="2.6" fill="none"/>
<text x="124.60" y="196.50" font-size="7.5" text-anchor="start" >6 nM APC</text>
<path d="M106.2,205.60 H124.0" stroke="#363636" stroke-width="2.6" fill="none"/>
<text x="124.60" y="208.30" font-size="7.5" text-anchor="start" >8 nM APC</text>
<path d="M106.2,217.40 H124.0" stroke="#000000" stroke-width="2.6" fill="none"/>
<text x="124.60" y="220.10" font-size="7.5" text-anchor="start" >10 nM APC</text>
<g stroke="#8a8a8a" stroke-width="0.8" fill="none">
<path d="M206.60,154.70 V242.00 H337.60"/>
<path d="M204.00,242.00 H206.60"/>
<path d="M204.00,224.54 H206.60"/>
<path d="M204.00,207.08 H206.60"/>
<path d="M204.00,189.62 H206.60"/>
<path d="M204.00,172.16 H206.60"/>
<path d="M204.00,154.70 H206.60"/>
<path d="M206.60,242.00 V244.40"/>
<path d="M239.35,242.00 V244.40"/>
<path d="M272.10,242.00 V244.40"/>
<path d="M304.85,242.00 V244.40"/>
<path d="M337.60,242.00 V244.40"/>
</g>
<text x="200.80" y="244.55" font-size="7.2" text-anchor="end" >0</text>
<text x="200.80" y="227.09" font-size="7.2" text-anchor="end" >50</text>
<text x="200.80" y="209.63" font-size="7.2" text-anchor="end" >100</text>
<text x="200.80" y="192.17" font-size="7.2" text-anchor="end" >150</text>
<text x="200.80" y="174.71" font-size="7.2" text-anchor="end" >200</text>
<text x="200.80" y="157.25" font-size="7.2" text-anchor="end" >250</text>
<text x="206.60" y="253.70" font-size="7.2" text-anchor="middle" >0</text>
<text x="239.35" y="253.70" font-size="7.2" text-anchor="middle" >5</text>
<text x="272.10" y="253.70" font-size="7.2" text-anchor="middle" >10</text>
<text x="304.85" y="253.70" font-size="7.2" text-anchor="middle" >15</text>
<text x="337.60" y="253.70" font-size="7.2" text-anchor="middle" >20</text>
<g fill="none" stroke-linejoin="round" stroke-linecap="round">
<path d="M209.88,242.00 L210.53,242.00 L211.19,241.98 L211.84,241.96 L212.50,241.92 L213.15,241.87 L213.81,241.81 L214.46,241.74 L215.12,241.65 L215.77,240.94 L216.42,239.15 L217.08,236.51 L217.73,233.27 L218.39,226.98 L219.04,216.62 L219.70,204.54 L220.35,193.11 L221.01,180.29 L221.66,167.28 L222.32,161.33 L222.97,161.36 L223.63,161.44 L224.28,161.58 L224.94,161.77 L225.59,162.03 L226.25,164.26 L226.91,168.70 L227.56,172.86 L228.22,175.97 L228.87,178.93 L229.53,181.76 L230.18,184.48 L230.84,187.09 L231.49,189.62 L232.14,192.09 L232.80,194.51 L233.45,196.85 L234.11,199.12 L234.76,201.30 L235.42,203.37 L236.07,205.33 L236.73,207.20 L237.38,208.99 L238.04,210.72 L238.69,212.37 L239.35,213.94 L240.00,215.44 L240.66,216.86 L241.31,218.22 L241.97,219.55 L242.62,220.83 L243.28,222.07 L243.94,223.23 L244.59,224.33 L245.25,225.35 L245.90,226.29 L246.56,227.15 L247.21,227.98 L247.87,228.77 L248.52,229.52 L249.17,230.23 L249.83,230.91 L250.48,231.55 L251.14,232.16 L251.79,232.73 L252.45,233.27 L253.10,233.79 L253.76,234.29 L254.41,234.77 L255.07,235.23 L255.72,235.67 L256.38,236.09 L257.03,236.47 L257.69,236.83 L258.35,237.16 L259.00,237.46 L259.65,237.73 L260.31,237.99 L260.96,238.24 L261.62,238.47 L262.27,238.68 L262.93,238.89 L263.58,239.07 L264.24,239.25 L264.89,239.41 L265.55,239.56 L266.20,239.69 L266.86,239.83 L267.51,239.95 L268.17,240.07 L268.82,240.18 L269.48,240.29 L270.13,240.38 L270.79,240.47 L271.44,240.54 L272.10,240.60 L272.75,240.66 L273.41,240.71 L274.06,240.76 L274.72,240.81 L275.38,240.86 L276.03,240.90 L276.69,240.94 L277.34,240.98 L278.00,241.02 L278.65,241.06 L279.31,241.09 L279.96,241.13 L280.62,241.16 L281.27,241.18 L281.93,241.21 L282.58,241.23 L283.24,241.25 L283.89,241.27 L284.54,241.29 L285.20,241.30 L285.86,241.31 L286.51,241.33 L287.16,241.34 L287.82,241.35 L288.48,241.36 L289.13,241.38 L289.78,241.39 L290.44,241.40 L291.10,241.41 L291.75,241.42 L292.40,241.43 L293.06,241.44 L293.72,241.46 L294.37,241.47 L295.02,241.48 L295.68,241.49 L296.33,241.50 L296.99,241.51 L297.64,241.52 L298.30,241.53 L298.95,241.54 L299.61,241.55 L300.26,241.56 L300.92,241.56 L301.57,241.57 L302.23,241.58 L302.88,241.59 L303.54,241.60 L304.19,241.61 L304.85,241.62 L305.50,241.63 L306.16,241.63 L306.81,241.64 L307.47,241.65 L308.12,241.66 L308.78,241.66 L309.44,241.67 L310.09,241.68 L310.75,241.68 L311.40,241.69 L312.05,241.70 L312.71,241.70 L313.37,241.71 L314.02,241.72 L314.68,241.72 L315.33,241.73 L315.99,241.73 L316.64,241.74 L317.29,241.74 L317.95,241.75 L318.61,241.75 L319.26,241.76 L319.92,241.76 L320.57,241.77 L321.23,241.77 L321.88,241.78 L322.53,241.78 L323.19,241.78 L323.84,241.79 L324.50,241.79 L325.15,241.79 L325.81,241.80 L326.47,241.80 L327.12,241.80 L327.77,241.81 L328.43,241.81 L329.08,241.81 L329.74,241.81 L330.39,241.82 L331.05,241.82 L331.70,241.82 L332.36,241.82 L333.01,241.82 L333.67,241.82 L334.32,241.82 L334.98,241.82 L335.63,241.82 L336.29,241.83 L336.94,241.83 L337.60,241.83" stroke="#d6d6d6" stroke-width="2.4"/>
<path d="M209.88,242.00 L210.53,242.00 L211.19,241.99 L211.84,241.97 L212.50,241.95 L213.15,241.92 L213.81,241.89 L214.46,241.84 L215.12,241.79 L215.77,241.72 L216.42,241.65 L217.08,241.04 L217.73,239.55 L218.39,237.45 L219.04,235.02 L219.70,231.20 L220.35,225.46 L221.01,218.83 L221.66,212.36 L222.32,207.08 L222.97,202.43 L223.63,197.70 L224.28,193.73 L224.94,191.35 L225.59,191.10 L226.25,191.66 L226.91,192.60 L227.56,193.73 L228.22,194.86 L228.87,196.06 L229.53,197.47 L230.18,199.03 L230.84,200.67 L231.49,202.31 L232.14,203.89 L232.80,205.33 L233.45,206.68 L234.11,208.01 L234.76,209.32 L235.42,210.61 L236.07,211.86 L236.73,213.09 L237.38,214.27 L238.04,215.41 L238.69,216.51 L239.35,217.56 L240.00,218.56 L240.66,219.53 L241.31,220.48 L241.97,221.39 L242.62,222.28 L243.28,223.14 L243.94,223.97 L244.59,224.77 L245.25,225.54 L245.90,226.29 L246.56,227.01 L247.21,227.72 L247.87,228.42 L248.52,229.09 L249.17,229.75 L249.83,230.37 L250.48,230.97 L251.14,231.54 L251.79,232.08 L252.45,232.57 L253.10,233.04 L253.76,233.49 L254.41,233.91 L255.07,234.32 L255.72,234.71 L256.38,235.09 L257.03,235.44 L257.69,235.78 L258.35,236.11 L259.00,236.41 L259.65,236.71 L260.31,236.99 L260.96,237.27 L261.62,237.53 L262.27,237.79 L262.93,238.03 L263.58,238.26 L264.24,238.47 L264.89,238.67 L265.55,238.86 L266.20,239.03 L266.86,239.20 L267.51,239.37 L268.17,239.53 L268.82,239.68 L269.48,239.82 L270.13,239.95 L270.79,240.06 L271.44,240.17 L272.10,240.25 L272.75,240.33 L273.41,240.41 L274.06,240.49 L274.72,240.56 L275.38,240.63 L276.03,240.70 L276.69,240.76 L277.34,240.83 L278.00,240.89 L278.65,240.94 L279.31,241.00 L279.96,241.05 L280.62,241.09 L281.27,241.14 L281.93,241.17 L282.58,241.21 L283.24,241.24 L283.89,241.26 L284.54,241.29 L285.20,241.30 L285.86,241.32 L286.51,241.33 L287.16,241.34 L287.82,241.36 L288.48,241.37 L289.13,241.38 L289.78,241.39 L290.44,241.41 L291.10,241.42 L291.75,241.43 L292.40,241.44 L293.06,241.45 L293.72,241.46 L294.37,241.48 L295.02,241.49 L295.68,241.50 L296.33,241.51 L296.99,241.52 L297.64,241.53 L298.30,241.54 L298.95,241.55 L299.61,241.56 L300.26,241.57 L300.92,241.58 L301.57,241.59 L302.23,241.59 L302.88,241.60 L303.54,241.61 L304.19,241.62 L304.85,241.63 L305.50,241.64 L306.16,241.64 L306.81,241.65 L307.47,241.66 L308.12,241.67 L308.78,241.67 L309.44,241.68 L310.09,241.69 L310.75,241.69 L311.40,241.70 L312.05,241.71 L312.71,241.71 L313.37,241.72 L314.02,241.73 L314.68,241.73 L315.33,241.74 L315.99,241.74 L316.64,241.75 L317.29,241.75 L317.95,241.76 L318.61,241.76 L319.26,241.77 L319.92,241.77 L320.57,241.77 L321.23,241.78 L321.88,241.78 L322.53,241.79 L323.19,241.79 L323.84,241.79 L324.50,241.80 L325.15,241.80 L325.81,241.80 L326.47,241.80 L327.12,241.81 L327.77,241.81 L328.43,241.81 L329.08,241.81 L329.74,241.81 L330.39,241.82 L331.05,241.82 L331.70,241.82 L332.36,241.82 L333.01,241.82 L333.67,241.82 L334.32,241.82 L334.98,241.82 L335.63,241.82 L336.29,241.83 L336.94,241.83 L337.60,241.83" stroke="#b6b6b6" stroke-width="2.4"/>
<path d="M209.88,242.00 L210.53,242.00 L211.19,241.99 L211.84,241.98 L212.50,241.97 L213.15,241.95 L213.81,241.92 L214.46,241.89 L215.12,241.86 L215.77,241.81 L216.42,241.77 L217.08,241.71 L217.73,241.65 L218.39,241.31 L219.04,240.52 L219.70,239.41 L220.35,238.11 L221.01,236.76 L221.66,235.07 L222.32,232.82 L222.97,230.30 L223.63,227.78 L224.28,225.54 L224.94,223.84 L225.59,222.48 L226.25,221.16 L226.91,220.04 L227.56,219.25 L228.22,218.95 L228.87,219.04 L229.53,219.28 L230.18,219.60 L230.84,219.98 L231.49,220.35 L232.14,220.75 L232.80,221.21 L233.45,221.73 L234.11,222.28 L234.76,222.83 L235.42,223.35 L236.07,223.84 L236.73,224.29 L237.38,224.74 L238.04,225.17 L238.69,225.59 L239.35,226.01 L240.00,226.42 L240.66,226.83 L241.31,227.23 L241.97,227.63 L242.62,228.03 L243.28,228.43 L243.94,228.83 L244.59,229.23 L245.25,229.63 L245.90,230.02 L246.56,230.41 L247.21,230.79 L247.87,231.16 L248.52,231.52 L249.17,231.87 L249.83,232.22 L250.48,232.55 L251.14,232.89 L251.79,233.21 L252.45,233.53 L253.10,233.85 L253.76,234.15 L254.41,234.45 L255.07,234.74 L255.72,235.02 L256.38,235.29 L257.03,235.56 L257.69,235.83 L258.35,236.10 L259.00,236.36 L259.65,236.60 L260.31,236.84 L260.96,237.06 L261.62,237.27 L262.27,237.46 L262.93,237.64 L263.58,237.81 L264.24,237.98 L264.89,238.14 L265.55,238.30 L266.20,238.45 L266.86,238.60 L267.51,238.74 L268.17,238.87 L268.82,239.00 L269.48,239.13 L270.13,239.24 L270.79,239.35 L271.44,239.46 L272.10,239.56 L272.75,239.65 L273.41,239.74 L274.06,239.84 L274.72,239.93 L275.38,240.02 L276.03,240.11 L276.69,240.19 L277.34,240.28 L278.00,240.36 L278.65,240.44 L279.31,240.51 L279.96,240.58 L280.62,240.64 L281.27,240.70 L281.93,240.76 L282.58,240.81 L283.24,240.86 L283.89,240.89 L284.54,240.93 L285.20,240.95 L285.86,240.97 L286.51,241.00 L287.16,241.02 L287.82,241.04 L288.48,241.06 L289.13,241.08 L289.78,241.10 L290.44,241.12 L291.10,241.14 L291.75,241.16 L292.40,241.18 L293.06,241.20 L293.72,241.22 L294.37,241.23 L295.02,241.25 L295.68,241.27 L296.33,241.29 L296.99,241.30 L297.64,241.32 L298.30,241.34 L298.95,241.35 L299.61,241.37 L300.26,241.39 L300.92,241.40 L301.57,241.42 L302.23,241.43 L302.88,241.45 L303.54,241.46 L304.19,241.47 L304.85,241.49 L305.50,241.50 L306.16,241.51 L306.81,241.53 L307.47,241.54 L308.12,241.55 L308.78,241.56 L309.44,241.58 L310.09,241.59 L310.75,241.60 L311.40,241.61 L312.05,241.62 L312.71,241.63 L313.37,241.64 L314.02,241.65 L314.68,241.66 L315.33,241.67 L315.99,241.68 L316.64,241.69 L317.29,241.70 L317.95,241.70 L318.61,241.71 L319.26,241.72 L319.92,241.73 L320.57,241.73 L321.23,241.74 L321.88,241.75 L322.53,241.75 L323.19,241.76 L323.84,241.77 L324.50,241.77 L325.15,241.78 L325.81,241.78 L326.47,241.79 L327.12,241.79 L327.77,241.80 L328.43,241.80 L329.08,241.80 L329.74,241.81 L330.39,241.81 L331.05,241.81 L331.70,241.81 L332.36,241.82 L333.01,241.82 L333.67,241.82 L334.32,241.82 L334.98,241.82 L335.63,241.82 L336.29,241.82 L336.94,241.83 L337.60,241.83" stroke="#939393" stroke-width="2.4"/>
<path d="M209.88,242.00 L210.53,242.00 L211.19,241.99 L211.84,241.98 L212.50,241.97 L213.15,241.96 L213.81,241.93 L214.46,241.91 L215.12,241.88 L215.77,241.84 L216.42,241.80 L217.08,241.76 L217.73,241.71 L218.39,241.65 L219.04,241.42 L219.70,240.91 L220.35,240.19 L221.01,239.37 L221.66,238.51 L222.32,237.44 L222.97,236.05 L223.63,234.49 L224.28,232.93 L224.94,231.54 L225.59,230.48 L226.25,229.61 L226.91,228.76 L227.56,228.03 L228.22,227.53 L228.87,227.33 L229.53,227.37 L230.18,227.45 L230.84,227.57 L231.49,227.72 L232.14,227.88 L232.80,228.03 L233.45,228.19 L234.11,228.37 L234.76,228.57 L235.42,228.78 L236.07,229.00 L236.73,229.23 L237.38,229.46 L238.04,229.69 L238.69,229.91 L239.35,230.13 L240.00,230.34 L240.66,230.55 L241.31,230.76 L241.97,230.97 L242.62,231.17 L243.28,231.38 L243.94,231.59 L244.59,231.80 L245.25,232.01 L245.90,232.22 L246.56,232.43 L247.21,232.65 L247.87,232.86 L248.52,233.08 L249.17,233.29 L249.83,233.51 L250.48,233.72 L251.14,233.92 L251.79,234.12 L252.45,234.32 L253.10,234.51 L253.76,234.70 L254.41,234.88 L255.07,235.07 L255.72,235.25 L256.38,235.42 L257.03,235.60 L257.69,235.76 L258.35,235.92 L259.00,236.06 L259.65,236.20 L260.31,236.34 L260.96,236.47 L261.62,236.59 L262.27,236.71 L262.93,236.83 L263.58,236.95 L264.24,237.06 L264.89,237.17 L265.55,237.29 L266.20,237.40 L266.86,237.51 L267.51,237.62 L268.17,237.73 L268.82,237.84 L269.48,237.95 L270.13,238.05 L270.79,238.15 L271.44,238.24 L272.10,238.33 L272.75,238.42 L273.41,238.50 L274.06,238.59 L274.72,238.67 L275.38,238.75 L276.03,238.83 L276.69,238.90 L277.34,238.98 L278.00,239.05 L278.65,239.13 L279.31,239.20 L279.96,239.27 L280.62,239.33 L281.27,239.40 L281.93,239.46 L282.58,239.52 L283.24,239.57 L283.89,239.63 L284.54,239.68 L285.20,239.73 L285.86,239.78 L286.51,239.82 L287.16,239.87 L287.82,239.91 L288.48,239.96 L289.13,240.00 L289.78,240.04 L290.44,240.08 L291.10,240.12 L291.75,240.16 L292.40,240.20 L293.06,240.24 L293.72,240.27 L294.37,240.31 L295.02,240.34 L295.68,240.38 L296.33,240.41 L296.99,240.44 L297.64,240.47 L298.30,240.51 L298.95,240.54 L299.61,240.57 L300.26,240.59 L300.92,240.62 L301.57,240.65 L302.23,240.68 L302.88,240.70 L303.54,240.73 L304.19,240.75 L304.85,240.78 L305.50,240.80 L306.16,240.83 L306.81,240.85 L307.47,240.87 L308.12,240.90 L308.78,240.92 L309.44,240.94 L310.09,240.97 L310.75,240.99 L311.40,241.01 L312.05,241.03 L312.71,241.06 L313.37,241.08 L314.02,241.10 L314.68,241.12 L315.33,241.14 L315.99,241.16 L316.64,241.19 L317.29,241.21 L317.95,241.23 L318.61,241.25 L319.26,241.27 L319.92,241.29 L320.57,241.30 L321.23,241.32 L321.88,241.34 L322.53,241.36 L323.19,241.38 L323.84,241.39 L324.50,241.41 L325.15,241.43 L325.81,241.44 L326.47,241.46 L327.12,241.47 L327.77,241.49 L328.43,241.50 L329.08,241.52 L329.74,241.53 L330.39,241.54 L331.05,241.56 L331.70,241.57 L332.36,241.58 L333.01,241.59 L333.67,241.60 L334.32,241.61 L334.98,241.62 L335.63,241.63 L336.29,241.64 L336.94,241.64 L337.60,241.65" stroke="#6a6a6a" stroke-width="2.4"/>
<path d="M209.88,242.00 L210.53,242.00 L211.19,241.99 L211.84,241.99 L212.50,241.98 L213.15,241.97 L213.81,241.95 L214.46,241.93 L215.12,241.91 L215.77,241.88 L216.42,241.85 L217.08,241.82 L217.73,241.79 L218.39,241.74 L219.04,241.70 L219.70,241.65 L220.35,241.51 L221.01,241.21 L221.66,240.81 L222.32,240.36 L222.97,239.90 L223.63,239.39 L224.28,238.75 L224.94,238.05 L225.59,237.34 L226.25,236.67 L226.91,236.11 L227.56,235.71 L228.22,235.42 L228.87,235.13 L229.53,234.87 L230.18,234.65 L230.84,234.47 L231.49,234.36 L232.14,234.32 L232.80,234.33 L233.45,234.35 L234.11,234.38 L234.76,234.41 L235.42,234.45 L236.07,234.49 L236.73,234.53 L237.38,234.57 L238.04,234.62 L238.69,234.67 L239.35,234.72 L240.00,234.78 L240.66,234.84 L241.31,234.90 L241.97,234.96 L242.62,235.02 L243.28,235.08 L243.94,235.14 L244.59,235.21 L245.25,235.28 L245.90,235.35 L246.56,235.43 L247.21,235.50 L247.87,235.57 L248.52,235.64 L249.17,235.71 L249.83,235.78 L250.48,235.85 L251.14,235.92 L251.79,235.99 L252.45,236.06 L253.10,236.13 L253.76,236.20 L254.41,236.27 L255.07,236.34 L255.72,236.41 L256.38,236.48 L257.03,236.56 L257.69,236.63 L258.35,236.70 L259.00,236.78 L259.65,236.85 L260.31,236.92 L260.96,236.99 L261.62,237.05 L262.27,237.11 L262.93,237.17 L263.58,237.22 L264.24,237.27 L264.89,237.32 L265.55,237.36 L266.20,237.41 L266.86,237.45 L267.51,237.50 L268.17,237.54 L268.82,237.58 L269.48,237.63 L270.13,237.67 L270.79,237.71 L271.44,237.76 L272.10,237.81 L272.75,237.86 L273.41,237.91 L274.06,237.96 L274.72,238.01 L275.38,238.07 L276.03,238.12 L276.69,238.18 L277.34,238.23 L278.00,238.29 L278.65,238.34 L279.31,238.40 L279.96,238.45 L280.62,238.50 L281.27,238.56 L281.93,238.61 L282.58,238.66 L283.24,238.71 L283.89,238.76 L284.54,238.81 L285.20,238.86 L285.86,238.90 L286.51,238.95 L287.16,239.00 L287.82,239.04 L288.48,239.09 L289.13,239.13 L289.78,239.18 L290.44,239.22 L291.10,239.27 L291.75,239.31 L292.40,239.35 L293.06,239.40 L293.72,239.44 L294.37,239.48 L295.02,239.52 L295.68,239.57 L296.33,239.61 L296.99,239.65 L297.64,239.69 L298.30,239.73 L298.95,239.77 L299.61,239.80 L300.26,239.84 L300.92,239.88 L301.57,239.91 L302.23,239.95 L302.88,239.98 L303.54,240.02 L304.19,240.05 L304.85,240.08 L305.50,240.11 L306.16,240.14 L306.81,240.17 L307.47,240.20 L308.12,240.23 L308.78,240.26 L309.44,240.29 L310.09,240.32 L310.75,240.35 L311.40,240.38 L312.05,240.41 L312.71,240.44 L313.37,240.47 L314.02,240.50 L314.68,240.53 L315.33,240.56 L315.99,240.58 L316.64,240.61 L317.29,240.64 L317.95,240.67 L318.61,240.69 L319.26,240.72 L319.92,240.75 L320.57,240.77 L321.23,240.80 L321.88,240.82 L322.53,240.85 L323.19,240.87 L323.84,240.89 L324.50,240.92 L325.15,240.94 L325.81,240.96 L326.47,240.99 L327.12,241.01 L327.77,241.03 L328.43,241.05 L329.08,241.07 L329.74,241.09 L330.39,241.11 L331.05,241.13 L331.70,241.15 L332.36,241.17 L333.01,241.19 L333.67,241.21 L334.32,241.22 L334.98,241.24 L335.63,241.26 L336.29,241.27 L336.94,241.29 L337.60,241.30" stroke="#363636" stroke-width="2.5"/>
<path d="M209.88,242.00 L210.53,242.00 L211.19,242.00 L211.84,241.99 L212.50,241.99 L213.15,241.98 L213.81,241.97 L214.46,241.96 L215.12,241.95 L215.77,241.94 L216.42,241.93 L217.08,241.91 L217.73,241.89 L218.39,241.87 L219.04,241.85 L219.70,241.83 L220.35,241.77 L221.01,241.66 L221.66,241.52 L222.32,241.34" stroke="#000000" stroke-width="1.63"/>
<path d="M220.35,241.77 L221.01,241.66 L221.66,241.52 L222.32,241.34 L222.97,241.15 L223.63,240.95 L224.28,240.72 L224.94,240.42 L225.59,240.08 L226.25,239.73 L226.91,239.40 L227.56,239.10 L228.22,238.86 L228.87,238.65 L229.53,238.45 L230.18,238.25 L230.84,238.08 L231.49,237.94 L232.14,237.84 L232.80,237.81 L233.45,237.81 L234.11,237.81 L234.76,237.81 L235.42,237.81 L236.07,237.81 L236.73,237.81 L237.38,237.81 L238.04,237.81 L238.69,237.81 L239.35,237.81 L240.00,237.82 L240.66,237.83 L241.31,237.86 L241.97,237.90 L242.62,237.94 L243.28,237.99 L243.94,238.03 L244.59,238.08 L245.25,238.12 L245.90,238.16 L246.56,238.19 L247.21,238.23 L247.87,238.26 L248.52,238.30 L249.17,238.33 L249.83,238.37 L250.48,238.40 L251.14,238.44 L251.79,238.47 L252.45,238.51 L253.10,238.54 L253.76,238.58 L254.41,238.61 L255.07,238.64 L255.72,238.68 L256.38,238.71 L257.03,238.75 L257.69,238.78 L258.35,238.82 L259.00,238.86 L259.65,238.90 L260.31,238.94 L260.96,238.98 L261.62,239.03 L262.27,239.07 L262.93,239.12 L263.58,239.17 L264.24,239.22 L264.89,239.27 L265.55,239.31 L266.20,239.36 L266.86,239.41 L267.51,239.46 L268.17,239.51 L268.82,239.56 L269.48,239.60 L270.13,239.65 L270.79,239.70 L271.44,239.75 L272.10,239.80 L272.75,239.85 L273.41,239.90 L274.06,239.95 L274.72,240.00 L275.38,240.05 L276.03,240.09 L276.69,240.14 L277.34,240.18 L278.00,240.22 L278.65,240.25 L279.31,240.29 L279.96,240.32 L280.62,240.35 L281.27,240.38 L281.93,240.41 L282.58,240.44 L283.24,240.47 L283.89,240.50 L284.54,240.52 L285.20,240.55 L285.86,240.57 L286.51,240.60 L287.16,240.62 L287.82,240.65 L288.48,240.67 L289.13,240.69 L289.78,240.71 L290.44,240.74 L291.10,240.76 L291.75,240.78 L292.40,240.80 L293.06,240.82 L293.72,240.84 L294.37,240.86 L295.02,240.88 L295.68,240.90 L296.33,240.92 L296.99,240.94 L297.64,240.96 L298.30,240.97 L298.95,240.99 L299.61,241.01 L300.26,241.02 L300.92,241.04 L301.57,241.06 L302.23,241.07 L302.88,241.09 L303.54,241.10 L304.19,241.11 L304.85,241.13 L305.50,241.14 L306.16,241.15 L306.81,241.16 L307.47,241.18 L308.12,241.19 L308.78,241.20 L309.44,241.21 L310.09,241.23 L310.75,241.24 L311.40,241.25 L312.05,241.26 L312.71,241.27 L313.37,241.28 L314.02,241.30 L314.68,241.31 L315.33,241.32 L315.99,241.33 L316.64,241.34 L317.29,241.35 L317.95,241.36 L318.61,241.37 L319.26,241.38 L319.92,241.39 L320.57,241.40 L321.23,241.41 L321.88,241.42 L322.53,241.43 L323.19,241.44 L323.84,241.45 L324.50,241.46 L325.15,241.47 L325.81,241.48 L326.47,241.48 L327.12,241.49 L327.77,241.50 L328.43,241.51 L329.08,241.51 L329.74,241.52 L330.39,241.53 L331.05,241.53 L331.70,241.54 L332.36,241.55 L333.01,241.55 L333.67,241.56 L334.32,241.56 L334.98,241.57 L335.63,241.57 L336.29,241.57 L336.94,241.58 L337.60,241.58" stroke="#000000" stroke-width="2.4"/>
</g>
<text x="179.80" y="149.00" font-size="11.5" text-anchor="start" >E</text>
<text transform="translate(186.00,201.70) rotate(-90)" font-size="7.5" text-anchor="middle">Thrombin (nM)</text>
<text x="279.00" y="262.50" font-size="7.8" text-anchor="middle" >Time (min)</text>
<rect x="384.65" y="23.10" width="6.30" height="84.10" fill="#a6a6a6"/>
<rect x="390.95" y="23.10" width="6.30" height="84.10" fill="#000"/>
<rect x="406.95" y="25.62" width="6.30" height="81.58" fill="#a6a6a6"/>
<rect x="413.25" y="52.54" width="6.30" height="54.66" fill="#000"/>
<path d="M410.10,25.62 V21.42 M407.30,21.42 H412.90" stroke="#2a2a2a" stroke-width="1.1" fill="none"/>
<path d="M416.40,52.54 V45.81 M413.60,45.81 H419.20" stroke="#111" stroke-width="1.1" fill="none"/>
<rect x="429.25" y="48.83" width="6.30" height="58.37" fill="#a6a6a6"/>
<rect x="435.55" y="90.38" width="6.30" height="16.82" fill="#000"/>
<path d="M432.40,48.83 V46.98 M429.60,46.98 H435.20" stroke="#2a2a2a" stroke-width="1.1" fill="none"/>
<path d="M438.70,90.38 V89.71 M435.90,89.71 H441.50" stroke="#111" stroke-width="1.1" fill="none"/>
<rect x="451.55" y="71.04" width="6.30" height="36.16" fill="#a6a6a6"/>
<rect x="457.85" y="100.47" width="6.30" height="6.73" fill="#000"/>
<path d="M454.70,71.04 V67.67 M451.90,67.67 H457.50" stroke="#2a2a2a" stroke-width="1.1" fill="none"/>
<path d="M461.00,100.47 V97.95 M458.20,97.95 H463.80" stroke="#111" stroke-width="1.1" fill="none"/>
<rect x="473.85" y="72.72" width="6.30" height="34.48" fill="#a6a6a6"/>
<rect x="480.15" y="104.17" width="6.30" height="3.03" fill="#000"/>
<path d="M477.00,72.72 V68.93 M474.20,68.93 H479.80" stroke="#2a2a2a" stroke-width="1.1" fill="none"/>
<path d="M483.30,104.17 V103.75 M480.50,103.75 H486.10" stroke="#111" stroke-width="1.1" fill="none"/>
<rect x="496.15" y="86.18" width="6.30" height="21.02" fill="#a6a6a6"/>
<rect x="502.45" y="105.52" width="6.30" height="1.68" fill="#000"/>
<path d="M499.30,86.18 V78.19 M496.50,78.19 H502.10" stroke="#2a2a2a" stroke-width="1.1" fill="none"/>
<path d="M505.60,105.52 V105.27 M502.80,105.27 H508.40" stroke="#111" stroke-width="1.1" fill="none"/>
<g stroke="#8a8a8a" stroke-width="0.8" fill="none">
<path d="M379.80,23.10 V107.20 H513.60"/>
<path d="M377.20,107.20 H379.80"/>
<path d="M377.20,90.38 H379.80"/>
<path d="M377.20,73.56 H379.80"/>
<path d="M377.20,56.74 H379.80"/>
<path d="M377.20,39.92 H379.80"/>
<path d="M377.20,23.10 H379.80"/>
<path d="M379.80,107.20 V109.60"/>
<path d="M402.10,107.20 V109.60"/>
<path d="M424.40,107.20 V109.60"/>
<path d="M446.70,107.20 V109.60"/>
<path d="M469.00,107.20 V109.60"/>
<path d="M491.30,107.20 V109.60"/>
<path d="M513.60,107.20 V109.60"/>
</g>
<text x="374.00" y="109.80" font-size="7.1" text-anchor="end" >0</text>
<text x="374.00" y="92.98" font-size="7.1" text-anchor="end" >20</text>
<text x="374.00" y="76.16" font-size="7.1" text-anchor="end" >40</text>
<text x="374.00" y="59.34" font-size="7.1" text-anchor="end" >60</text>
<text x="374.00" y="42.52" font-size="7.1" text-anchor="end" >80</text>
<text x="374.00" y="25.70" font-size="7.1" text-anchor="end" >100</text>
<text x="391.05" y="118.45" font-size="7.2" text-anchor="middle" >0</text>
<text x="413.35" y="118.45" font-size="7.2" text-anchor="middle" >1</text>
<text x="435.65" y="118.45" font-size="7.2" text-anchor="middle" >2</text>
<text x="457.95" y="118.45" font-size="7.2" text-anchor="middle" >3</text>
<text x="480.25" y="118.45" font-size="7.2" text-anchor="middle" >4</text>
<text x="502.55" y="118.45" font-size="7.2" text-anchor="middle" >5</text>
<text x="446.80" y="129.00" font-size="7.8" text-anchor="middle" >APC (nM)</text>
<text transform="translate(360.90,68.40) rotate(-90)" font-size="7.9" text-anchor="middle">Residual ETP (%)</text>
<rect x="442.10" y="22.40" width="4.0" height="4.0" fill="#a6a6a6"/>
<text x="447.60" y="26.15" font-size="7.47" text-anchor="start" >Defibrinated plasma</text>
<rect x="442.10" y="35.20" width="4.0" height="4.0" fill="#000"/>
<text x="447.60" y="39.00" font-size="7.42" text-anchor="start" >Whole plasma</text>
<text x="355.50" y="8.80" font-size="11.5" text-anchor="start" >C</text>
<rect x="386.00" y="156.00" width="6.30" height="85.20" fill="#a6a6a6"/>
<rect x="392.30" y="156.00" width="6.30" height="85.20" fill="#000"/>
<rect x="408.20" y="162.82" width="6.30" height="78.38" fill="#a6a6a6"/>
<rect x="414.50" y="176.45" width="6.30" height="64.75" fill="#000"/>
<path d="M411.35,162.82 V156.00 M408.55,156.00 H414.15" stroke="#2a2a2a" stroke-width="1.1" fill="none"/>
<path d="M417.65,176.45 V173.89 M414.85,173.89 H420.45" stroke="#111" stroke-width="1.1" fill="none"/>
<rect x="430.40" y="171.34" width="6.30" height="69.86" fill="#a6a6a6"/>
<rect x="436.70" y="198.60" width="6.30" height="42.60" fill="#000"/>
<path d="M433.55,171.34 V168.35 M430.75,168.35 H436.35" stroke="#2a2a2a" stroke-width="1.1" fill="none"/>
<path d="M439.85,198.60 V196.04 M437.05,196.04 H442.65" stroke="#111" stroke-width="1.1" fill="none"/>
<rect x="452.60" y="184.12" width="6.30" height="57.08" fill="#a6a6a6"/>
<rect x="458.90" y="209.16" width="6.30" height="32.04" fill="#000"/>
<path d="M455.75,184.12 V179.86 M452.95,179.86 H458.55" stroke="#2a2a2a" stroke-width="1.1" fill="none"/>
<path d="M462.05,209.16 V207.12 M459.25,207.12 H464.85" stroke="#111" stroke-width="1.1" fill="none"/>
<rect x="474.80" y="196.04" width="6.30" height="45.16" fill="#a6a6a6"/>
<rect x="481.10" y="221.09" width="6.30" height="20.11" fill="#000"/>
<path d="M477.95,196.04 V192.64 M475.15,192.64 H480.75" stroke="#2a2a2a" stroke-width="1.1" fill="none"/>
<rect x="497.00" y="192.64" width="6.30" height="48.56" fill="#a6a6a6"/>
<rect x="503.30" y="228.85" width="6.30" height="12.35" fill="#000"/>
<path d="M500.15,192.64 V188.38 M497.35,188.38 H502.95" stroke="#2a2a2a" stroke-width="1.1" fill="none"/>
<path d="M506.45,228.85 V225.86 M503.65,225.86 H509.25" stroke="#111" stroke-width="1.1" fill="none"/>
<g stroke="#8a8a8a" stroke-width="0.8" fill="none">
<path d="M381.20,156.00 V241.20 H514.40"/>
<path d="M378.60,241.20 H381.20"/>
<path d="M378.60,224.16 H381.20"/>
<path d="M378.60,207.12 H381.20"/>
<path d="M378.60,190.08 H381.20"/>
<path d="M378.60,173.04 H381.20"/>
<path d="M378.60,156.00 H381.20"/>
<path d="M381.20,241.20 V243.60"/>
<path d="M403.40,241.20 V243.60"/>
<path d="M425.60,241.20 V243.60"/>
<path d="M447.80,241.20 V243.60"/>
<path d="M470.00,241.20 V243.60"/>
<path d="M492.20,241.20 V243.60"/>
<path d="M514.40,241.20 V243.60"/>
</g>
<text x="375.40" y="243.80" font-size="7.1" text-anchor="end" >0</text>
<text x="375.40" y="226.76" font-size="7.1" text-anchor="end" >20</text>
<text x="375.40" y="209.72" font-size="7.1" text-anchor="end" >40</text>
<text x="375.40" y="192.68" font-size="7.1" text-anchor="end" >60</text>
<text x="375.40" y="175.64" font-size="7.1" text-anchor="end" >80</text>
<text x="375.40" y="158.60" font-size="7.1" text-anchor="end" >100</text>
<text x="392.40" y="252.70" font-size="7.2" text-anchor="middle" >0</text>
<text x="414.60" y="252.70" font-size="7.2" text-anchor="middle" >2</text>
<text x="436.80" y="252.70" font-size="7.2" text-anchor="middle" >4</text>
<text x="459.00" y="252.70" font-size="7.2" text-anchor="middle" >6</text>
<text x="481.20" y="252.70" font-size="7.2" text-anchor="middle" >8</text>
<text x="503.40" y="252.70" font-size="7.2" text-anchor="middle" >10</text>
<text x="451.50" y="262.60" font-size="7.8" text-anchor="middle" >APC (nM)</text>
<text transform="translate(360.90,201.40) rotate(-90)" font-size="7.9" text-anchor="middle">Residual ETP (%)</text>
<rect x="442.60" y="151.30" width="4.2" height="4.2" fill="#a6a6a6"/>
<text x="448.10" y="155.05" font-size="7.6" text-anchor="start" >Defibrinated plasma</text>
<rect x="442.60" y="164.30" width="4.2" height="4.2" fill="#000"/>
<text x="448.10" y="168.10" font-size="7.42" text-anchor="start" >Whole plasma</text>
<text x="355.20" y="149.00" font-size="11.5" text-anchor="start" >F</text>
</svg>
</body></html>
